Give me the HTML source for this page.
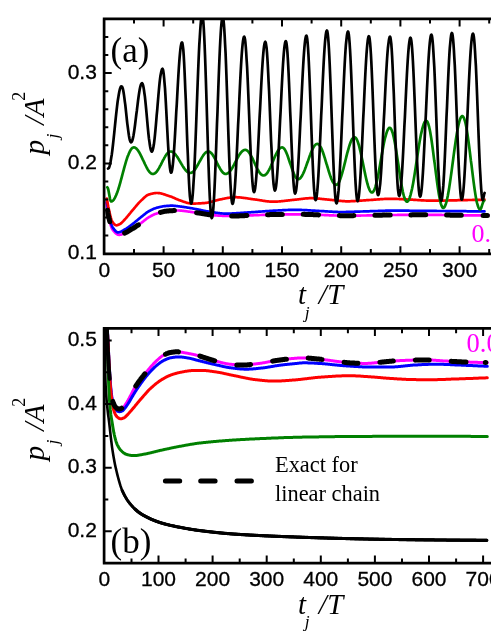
<!DOCTYPE html>
<html><head><meta charset="utf-8"><title>p_j/A^2 vs t_j/T</title>
<style>
html,body{margin:0;padding:0;background:#fff;}
body{width:491px;height:635px;overflow:hidden;font-family:"Liberation Sans",sans-serif;}
svg{display:block;will-change:transform;}
</style></head><body>
<svg width="491" height="635" viewBox="0 0 491 635">
<rect width="491" height="635" fill="#fff"/>
<defs>
<clipPath id="ca"><rect x="104.4" y="18.8" width="388.6" height="235.1"/></clipPath>
<clipPath id="cb"><rect x="104.4" y="328.4" width="388.6" height="234.8"/></clipPath>
</defs>
<g clip-path="url(#ca)">
<path d="M106.5 202.8L107 206.6L107.5 210.2L108 213.4L108.5 216L109 218.3L109.5 220.5L110 222.5L110.5 224.4L111 226.1L111.5 227.5L112 228.6L112.5 229.5L113 230.2L113.5 230.8L114 231.4L114.5 232L115 232.5L115.5 233L116 233.5L116.5 233.9L117 234.2L117.5 234.5L118 234.7L118.5 234.8L119 234.9L119.5 234.9L120 234.8L120.5 234.7L121 234.6L121.5 234.4L122 234.2L122.5 234L123 233.8L123.5 233.6L124 233.4L124.5 233.2L125 232.9L125.5 232.7L126 232.5L126.5 232.2L127 232L127.5 231.7L128 231.4L128.5 231.1L129 230.8L129.5 230.5L130 230.2L130.5 229.9L131 229.6L131.5 229.3L132 229L132.5 228.7L133 228.4L133.5 228.1L134 227.7L134.5 227.4L135 227.1L135.5 226.8L136 226.5L136.5 226.1L137 225.8L137.5 225.5L138 225.1L138.5 224.8L139 224.5L139.5 224.1L140 223.8L140.5 223.4L141 223.1L141.5 222.7L142 222.3L142.5 222L143 221.6L143.5 221.2L144 220.8L144.5 220.4L145 220L145.5 219.6L146 219.2L146.5 218.8L147 218.4L147.5 218.1L148 217.8L148.5 217.4L149 217.1L149.5 216.9L150 216.6L150.5 216.3L151 216L151.5 215.8L152 215.5L152.5 215.2L153 215L153.5 214.8L154 214.5L154.5 214.3L155 214.1L155.5 213.9L156 213.7L156.5 213.6L157 213.4L157.5 213.2L158 213.1L158.5 212.9L159 212.8L159.5 212.7L160 212.5L160.5 212.4L161 212.2L161.5 212.1L162 212L162.5 211.9L163 211.7L163.5 211.6L164 211.5L164.5 211.4L165 211.3L165.5 211.2L166 211.2L166.5 211.1L167 211L167.5 211L168 210.9L168.5 210.9L169 210.9L169.5 210.8L170 210.8L170.5 210.8L171 210.7L171.5 210.7L172 210.7L172.5 210.7L173 210.6L173.5 210.6L174 210.6L174.5 210.6L175 210.5L175.5 210.5L176 210.5L176.5 210.5L177 210.5L177.5 210.5L178 210.5L178.5 210.5L179 210.5L179.5 210.5L180 210.6L180.5 210.6L181 210.6L181.5 210.7L182 210.7L182.5 210.8L183 210.8L183.5 210.9L184 211L184.5 211L185 211.1L185.5 211.2L186 211.2L186.5 211.3L187 211.4L187.5 211.5L188 211.5L188.5 211.6L189 211.7L189.5 211.7L190 211.8L190.5 211.9L191 211.9L191.5 212L192 212.1L192.5 212.1L193 212.2L193.5 212.3L194 212.3L194.5 212.4L195 212.5L195.5 212.5L196 212.6L196.5 212.7L197 212.8L197.5 212.8L198 212.9L198.5 213L199 213.1L199.5 213.1L200 213.2L200.5 213.3L201 213.3L201.5 213.4L202 213.5L202.5 213.6L203 213.7L203.5 213.8L204 213.8L204.5 213.9L205 214L205.5 214.1L206 214.2L206.5 214.3L207 214.4L207.5 214.5L208 214.5L208.5 214.6L209 214.7L209.5 214.8L210 214.9L210.5 214.9L211 215L211.5 215.1L212 215.1L212.5 215.2L213 215.2L213.5 215.3L214 215.3L214.5 215.4L215 215.4L215.5 215.4L216 215.5L216.5 215.5L217 215.5L217.5 215.5L218 215.6L218.5 215.6L219 215.6L219.5 215.6L220 215.7L220.5 215.7L221 215.7L221.5 215.7L222 215.8L222.5 215.8L223 215.8L223.5 215.8L224 215.8L224.5 215.9L225 215.9L225.5 215.9L226 215.9L226.5 215.9L227 215.9L227.5 215.9L228 216L228.5 216L229 216L229.5 216L230 216L230.5 216L231 216L231.5 216L232 216L232.5 216L233 216L233.5 216L234 216L234.5 216L235 216L235.5 216L236 216L236.5 215.9L237 215.9L237.5 215.9L238 215.9L238.5 215.9L239 215.9L239.5 215.9L240 215.8L240.5 215.8L241 215.8L241.5 215.8L242 215.8L242.5 215.7L243 215.7L243.5 215.7L244 215.7L244.5 215.7L245 215.6L245.5 215.6L246 215.6L246.5 215.6L247 215.5L247.5 215.5L248 215.5L248.5 215.5L249 215.4L249.5 215.4L250 215.4L250.5 215.4L251 215.4L251.5 215.3L252 215.3L252.5 215.3L253 215.3L253.5 215.3L254 215.2L254.5 215.2L255 215.2L255.5 215.2L256 215.2L256.5 215.1L257 215.1L257.5 215.1L258 215.1L258.5 215.1L259 215.1L259.5 215L260 215L260.5 215L261 215L261.5 215L262 214.9L262.5 214.9L263 214.9L263.5 214.9L264 214.9L264.5 214.8L265 214.8L265.5 214.8L266 214.8L266.5 214.8L267 214.7L267.5 214.7L268 214.7L268.5 214.7L269 214.7L269.5 214.6L270 214.6L270.5 214.6L271 214.6L271.5 214.6L272 214.6L272.5 214.6L273 214.5L273.5 214.5L274 214.5L274.5 214.5L275 214.5L275.5 214.5L276 214.5L276.5 214.5L277 214.4L277.5 214.4L278 214.4L278.5 214.4L279 214.4L279.5 214.4L280 214.4L280.5 214.4L281 214.4L281.5 214.4L282 214.4L282.5 214.4L283 214.4L283.5 214.4L284 214.4L284.5 214.4L285 214.4L285.5 214.4L286 214.4L286.5 214.4L287 214.3L287.5 214.3L288 214.3L288.5 214.3L289 214.3L289.5 214.3L290 214.3L290.5 214.3L291 214.3L291.5 214.3L292 214.3L292.5 214.3L293 214.3L293.5 214.3L294 214.3L294.5 214.3L295 214.3L295.5 214.3L296 214.3L296.5 214.3L297 214.3L297.5 214.3L298 214.3L298.5 214.3L299 214.3L299.5 214.3L300 214.3L300.5 214.3L301 214.3L301.5 214.3L302 214.3L302.5 214.3L303 214.3L303.5 214.3L304 214.3L304.5 214.4L305 214.4L305.5 214.4L306 214.4L306.5 214.4L307 214.4L307.5 214.4L308 214.5L308.5 214.5L309 214.5L309.5 214.5L310 214.5L310.5 214.5L311 214.6L311.5 214.6L312 214.6L312.5 214.6L313 214.6L313.5 214.7L314 214.7L314.5 214.7L315 214.7L315.5 214.7L316 214.8L316.5 214.8L317 214.8L317.5 214.8L318 214.8L318.5 214.9L319 214.9L319.5 214.9L320 214.9L320.5 214.9L321 214.9L321.5 214.9L322 215L322.5 215L323 215L323.5 215L324 215L324.5 215.1L325 215.1L325.5 215.1L326 215.1L326.5 215.1L327 215.2L327.5 215.2L328 215.2L328.5 215.2L329 215.3L329.5 215.3L330 215.3L330.5 215.3L331 215.3L331.5 215.4L332 215.4L332.5 215.4L333 215.4L333.5 215.4L334 215.5L334.5 215.5L335 215.5L335.5 215.5L336 215.5L336.5 215.5L337 215.6L337.5 215.6L338 215.6L338.5 215.6L339 215.6L339.5 215.6L340 215.6L340.5 215.7L341 215.7L341.5 215.7L342 215.7L342.5 215.7L343 215.7L343.5 215.7L344 215.7L344.5 215.7L345 215.7L345.5 215.7L346 215.7L346.5 215.7L347 215.7L347.5 215.7L348 215.7L348.5 215.7L349 215.7L349.5 215.7L350 215.7L350.5 215.7L351 215.7L351.5 215.7L352 215.7L352.5 215.7L353 215.7L353.5 215.6L354 215.6L354.5 215.6L355 215.6L355.5 215.6L356 215.6L356.5 215.6L357 215.6L357.5 215.6L358 215.6L358.5 215.6L359 215.6L359.5 215.6L360 215.6L360.5 215.6L361 215.5L361.5 215.5L362 215.5L362.5 215.5L363 215.5L363.5 215.5L364 215.5L364.5 215.5L365 215.5L365.5 215.5L366 215.5L366.5 215.5L367 215.4L367.5 215.4L368 215.4L368.5 215.4L369 215.4L369.5 215.4L370 215.4L370.5 215.4L371 215.4L371.5 215.4L372 215.4L372.5 215.4L373 215.3L373.5 215.3L374 215.3L374.5 215.3L375 215.3L375.5 215.3L376 215.3L376.5 215.3L377 215.3L377.5 215.3L378 215.2L378.5 215.2L379 215.2L379.5 215.2L380 215.2L380.5 215.2L381 215.2L381.5 215.2L382 215.1L382.5 215.1L383 215.1L383.5 215.1L384 215.1L384.5 215.1L385 215.1L385.5 215.1L386 215.1L386.5 215.1L387 215.1L387.5 215L388 215L388.5 215L389 215L389.5 215L390 215L390.5 215L391 215L391.5 215L392 215L392.5 215L393 215L393.5 215L394 215L394.5 215L395 215L395.5 215L396 215L396.5 215L397 215L397.5 214.9L398 214.9L398.5 214.9L399 214.9L399.5 214.9L400 214.9L400.5 214.9L401 214.9L401.5 214.9L402 214.9L402.5 214.9L403 214.9L403.5 214.9L404 214.9L404.5 214.9L405 214.9L405.5 214.9L406 214.9L406.5 214.9L407 214.9L407.5 214.9L408 214.9L408.5 214.9L409 214.9L409.5 214.9L410 214.9L410.5 214.9L411 214.9L411.5 214.9L412 214.9L412.5 214.8L413 214.8L413.5 214.8L414 214.8L414.5 214.8L415 214.8L415.5 214.8L416 214.8L416.5 214.8L417 214.8L417.5 214.8L418 214.8L418.5 214.8L419 214.8L419.5 214.8L420 214.8L420.5 214.8L421 214.8L421.5 214.8L422 214.8L422.5 214.8L423 214.8L423.5 214.8L424 214.8L424.5 214.8L425 214.8L425.5 214.8L426 214.8L426.5 214.8L427 214.8L427.5 214.8L428 214.8L428.5 214.8L429 214.8L429.5 214.8L430 214.8L430.5 214.8L431 214.8L431.5 214.8L432 214.8L432.5 214.8L433 214.8L433.5 214.8L434 214.8L434.5 214.8L435 214.8L435.5 214.8L436 214.8L436.5 214.9L437 214.9L437.5 214.9L438 214.9L438.5 214.9L439 214.9L439.5 214.9L440 214.9L440.5 214.9L441 214.9L441.5 214.9L442 215L442.5 215L443 215L443.5 215L444 215L444.5 215L445 215L445.5 215L446 215.1L446.5 215.1L447 215.1L447.5 215.1L448 215.1L448.5 215.1L449 215.1L449.5 215.1L450 215.1L450.5 215.2L451 215.2L451.5 215.2L452 215.2L452.5 215.2L453 215.2L453.5 215.2L454 215.2L454.5 215.2L455 215.2L455.5 215.3L456 215.3L456.5 215.3L457 215.3L457.5 215.3L458 215.3L458.5 215.3L459 215.3L459.5 215.3L460 215.3L460.5 215.3L461 215.3L461.5 215.3L462 215.3L462.5 215.3L463 215.3L463.5 215.3L464 215.3L464.5 215.3L465 215.3L465.5 215.3L466 215.3L466.5 215.3L467 215.3L467.5 215.3L468 215.3L468.5 215.3L469 215.3L469.5 215.4L470 215.4L470.5 215.4L471 215.4L471.5 215.4L472 215.4L472.5 215.4L473 215.4L473.5 215.4L474 215.4L474.5 215.4L475 215.4L475.5 215.4L476 215.4L476.5 215.4L477 215.4L477.5 215.4L478 215.4L478.5 215.4L479 215.4L479.5 215.4L480 215.4L480.5 215.4L481 215.4L481.5 215.4L482 215.4L482.5 215.4L483 215.4L483.5 215.4L484 215.4L484.5 215.4L485 215.4L485.5 215.4L486 215.4L486.5 215.4L487 215.4L487.5 215.4L488 215.4L488.5 215.4L488.6 215.4" fill="none" stroke="#ff00ff" stroke-width="2.7" stroke-linejoin="round" stroke-linecap="round"/>
<path d="M106.8 201L107.3 204.3L107.8 207.5L108.3 210.4L108.8 213L109.3 215.4L109.8 217.7L110.3 220L110.8 222L111.3 223.9L111.8 225.5L112.3 226.6L112.8 227.5L113.3 228.2L113.8 228.9L114.3 229.6L114.8 230.2L115.3 230.8L115.8 231.3L116.3 231.7L116.8 232L117.3 232.2L117.8 232.4L118.3 232.4L118.8 232.4L119.3 232.3L119.8 232.1L120.3 231.9L120.8 231.7L121.3 231.5L121.8 231.2L122.3 230.9L122.8 230.6L123.3 230.3L123.8 230L124.3 229.8L124.8 229.5L125.3 229.2L125.8 228.9L126.3 228.6L126.8 228.3L127.3 227.9L127.8 227.6L128.3 227.2L128.8 226.9L129.3 226.5L129.8 226.1L130.3 225.7L130.8 225.4L131.3 225L131.8 224.6L132.3 224.2L132.8 223.8L133.3 223.5L133.8 223.1L134.3 222.7L134.8 222.3L135.3 221.9L135.8 221.4L136.3 221L136.8 220.6L137.3 220.2L137.8 219.8L138.3 219.4L138.8 218.9L139.3 218.5L139.8 218.1L140.3 217.7L140.8 217.3L141.3 216.9L141.8 216.5L142.3 216.1L142.8 215.7L143.3 215.3L143.8 214.9L144.3 214.5L144.8 214.1L145.3 213.7L145.8 213.3L146.3 212.9L146.8 212.5L147.3 212.2L147.8 211.9L148.3 211.5L148.8 211.3L149.3 211L149.8 210.7L150.3 210.5L150.8 210.2L151.3 209.9L151.8 209.7L152.3 209.5L152.8 209.2L153.3 209L153.8 208.8L154.3 208.6L154.8 208.4L155.3 208.2L155.8 208.1L156.3 207.9L156.8 207.8L157.3 207.6L157.8 207.5L158.3 207.4L158.8 207.2L159.3 207.1L159.8 207L160.3 206.9L160.8 206.8L161.3 206.7L161.8 206.6L162.3 206.5L162.8 206.4L163.3 206.3L163.8 206.2L164.3 206.2L164.8 206.1L165.3 206.1L165.8 206L166.3 206L166.8 205.9L167.3 205.9L167.8 205.9L168.3 205.8L168.8 205.8L169.3 205.8L169.8 205.7L170.3 205.7L170.8 205.7L171.3 205.7L171.8 205.7L172.3 205.7L172.8 205.7L173.3 205.7L173.8 205.8L174.3 205.8L174.8 205.9L175.3 205.9L175.8 206L176.3 206L176.8 206.1L177.3 206.2L177.8 206.2L178.3 206.3L178.8 206.4L179.3 206.4L179.8 206.5L180.3 206.5L180.8 206.6L181.3 206.7L181.8 206.7L182.3 206.8L182.8 206.9L183.3 206.9L183.8 207L184.3 207.1L184.8 207.2L185.3 207.2L185.8 207.3L186.3 207.4L186.8 207.5L187.3 207.6L187.8 207.6L188.3 207.7L188.8 207.8L189.3 207.9L189.8 208L190.3 208.1L190.8 208.2L191.3 208.2L191.8 208.3L192.3 208.4L192.8 208.5L193.3 208.6L193.8 208.7L194.3 208.8L194.8 208.9L195.3 209L195.8 209L196.3 209.1L196.8 209.2L197.3 209.3L197.8 209.4L198.3 209.5L198.8 209.6L199.3 209.7L199.8 209.8L200.3 209.9L200.8 210L201.3 210.2L201.8 210.3L202.3 210.4L202.8 210.5L203.3 210.6L203.8 210.7L204.3 210.8L204.8 210.9L205.3 211L205.8 211.1L206.3 211.2L206.8 211.3L207.3 211.4L207.8 211.4L208.3 211.5L208.8 211.6L209.3 211.7L209.8 211.8L210.3 211.8L210.8 211.9L211.3 212L211.8 212.1L212.3 212.1L212.8 212.2L213.3 212.3L213.8 212.4L214.3 212.5L214.8 212.5L215.3 212.6L215.8 212.7L216.3 212.8L216.8 212.8L217.3 212.9L217.8 213L218.3 213L218.8 213.1L219.3 213.2L219.8 213.2L220.3 213.3L220.8 213.3L221.3 213.4L221.8 213.4L222.3 213.5L222.8 213.5L223.3 213.5L223.8 213.6L224.3 213.6L224.8 213.6L225.3 213.6L225.8 213.6L226.3 213.6L226.8 213.6L227.3 213.6L227.8 213.6L228.3 213.6L228.8 213.6L229.3 213.5L229.8 213.5L230.3 213.5L230.8 213.5L231.3 213.5L231.8 213.5L232.3 213.4L232.8 213.4L233.3 213.4L233.8 213.4L234.3 213.3L234.8 213.3L235.3 213.3L235.8 213.3L236.3 213.2L236.8 213.2L237.3 213.2L237.8 213.1L238.3 213.1L238.8 213.1L239.3 213L239.8 213L240.3 213L240.8 212.9L241.3 212.9L241.8 212.9L242.3 212.8L242.8 212.8L243.3 212.8L243.8 212.7L244.3 212.7L244.8 212.6L245.3 212.6L245.8 212.6L246.3 212.5L246.8 212.5L247.3 212.5L247.8 212.4L248.3 212.4L248.8 212.4L249.3 212.3L249.8 212.3L250.3 212.3L250.8 212.3L251.3 212.2L251.8 212.2L252.3 212.2L252.8 212.1L253.3 212.1L253.8 212.1L254.3 212L254.8 212L255.3 212L255.8 211.9L256.3 211.9L256.8 211.9L257.3 211.8L257.8 211.8L258.3 211.7L258.8 211.7L259.3 211.7L259.8 211.6L260.3 211.6L260.8 211.6L261.3 211.5L261.8 211.5L262.3 211.5L262.8 211.4L263.3 211.4L263.8 211.3L264.3 211.3L264.8 211.3L265.3 211.2L265.8 211.2L266.3 211.2L266.8 211.1L267.3 211.1L267.8 211.1L268.3 211L268.8 211L269.3 211L269.8 210.9L270.3 210.9L270.8 210.9L271.3 210.8L271.8 210.8L272.3 210.8L272.8 210.7L273.3 210.7L273.8 210.7L274.3 210.6L274.8 210.6L275.3 210.6L275.8 210.6L276.3 210.5L276.8 210.5L277.3 210.5L277.8 210.5L278.3 210.4L278.8 210.4L279.3 210.4L279.8 210.4L280.3 210.3L280.8 210.3L281.3 210.3L281.8 210.3L282.3 210.2L282.8 210.2L283.3 210.2L283.8 210.1L284.3 210.1L284.8 210.1L285.3 210.1L285.8 210.1L286.3 210L286.8 210L287.3 210L287.8 210L288.3 209.9L288.8 209.9L289.3 209.9L289.8 209.9L290.3 209.9L290.8 209.9L291.3 209.8L291.8 209.8L292.3 209.8L292.8 209.8L293.3 209.8L293.8 209.8L294.3 209.8L294.8 209.8L295.3 209.8L295.8 209.8L296.3 209.8L296.8 209.8L297.3 209.8L297.8 209.8L298.3 209.8L298.8 209.9L299.3 209.9L299.8 209.9L300.3 209.9L300.8 209.9L301.3 209.9L301.8 210L302.3 210L302.8 210L303.3 210L303.8 210L304.3 210.1L304.8 210.1L305.3 210.1L305.8 210.2L306.3 210.2L306.8 210.2L307.3 210.2L307.8 210.3L308.3 210.3L308.8 210.3L309.3 210.4L309.8 210.4L310.3 210.4L310.8 210.5L311.3 210.5L311.8 210.5L312.3 210.6L312.8 210.6L313.3 210.6L313.8 210.6L314.3 210.7L314.8 210.7L315.3 210.7L315.8 210.8L316.3 210.8L316.8 210.8L317.3 210.9L317.8 210.9L318.3 210.9L318.8 210.9L319.3 211L319.8 211L320.3 211L320.8 211L321.3 211.1L321.8 211.1L322.3 211.1L322.8 211.1L323.3 211.2L323.8 211.2L324.3 211.2L324.8 211.3L325.3 211.3L325.8 211.3L326.3 211.4L326.8 211.4L327.3 211.4L327.8 211.5L328.3 211.5L328.8 211.5L329.3 211.6L329.8 211.6L330.3 211.6L330.8 211.6L331.3 211.7L331.8 211.7L332.3 211.7L332.8 211.8L333.3 211.8L333.8 211.8L334.3 211.8L334.8 211.9L335.3 211.9L335.8 211.9L336.3 211.9L336.8 211.9L337.3 211.9L337.8 212L338.3 212L338.8 212L339.3 212L339.8 212L340.3 212L340.8 212L341.3 212L341.8 212L342.3 212L342.8 212L343.3 212L343.8 212L344.3 212L344.8 212L345.3 212L345.8 212L346.3 211.9L346.8 211.9L347.3 211.9L347.8 211.9L348.3 211.9L348.8 211.9L349.3 211.9L349.8 211.9L350.3 211.9L350.8 211.8L351.3 211.8L351.8 211.8L352.3 211.8L352.8 211.8L353.3 211.8L353.8 211.8L354.3 211.7L354.8 211.7L355.3 211.7L355.8 211.7L356.3 211.7L356.8 211.7L357.3 211.6L357.8 211.6L358.3 211.6L358.8 211.6L359.3 211.6L359.8 211.6L360.3 211.5L360.8 211.5L361.3 211.5L361.8 211.5L362.3 211.5L362.8 211.5L363.3 211.4L363.8 211.4L364.3 211.4L364.8 211.4L365.3 211.4L365.8 211.4L366.3 211.4L366.8 211.3L367.3 211.3L367.8 211.3L368.3 211.3L368.8 211.3L369.3 211.3L369.8 211.2L370.3 211.2L370.8 211.2L371.3 211.2L371.8 211.2L372.3 211.2L372.8 211.1L373.3 211.1L373.8 211.1L374.3 211.1L374.8 211.1L375.3 211L375.8 211L376.3 211L376.8 211L377.3 211L377.8 211L378.3 210.9L378.8 210.9L379.3 210.9L379.8 210.9L380.3 210.9L380.8 210.9L381.3 210.8L381.8 210.8L382.3 210.8L382.8 210.8L383.3 210.8L383.8 210.8L384.3 210.8L384.8 210.8L385.3 210.7L385.8 210.7L386.3 210.7L386.8 210.7L387.3 210.7L387.8 210.7L388.3 210.7L388.8 210.7L389.3 210.7L389.8 210.7L390.3 210.7L390.8 210.7L391.3 210.7L391.8 210.7L392.3 210.7L392.8 210.7L393.3 210.7L393.8 210.7L394.3 210.7L394.8 210.7L395.3 210.7L395.8 210.7L396.3 210.7L396.8 210.7L397.3 210.7L397.8 210.7L398.3 210.7L398.8 210.7L399.3 210.7L399.8 210.7L400.3 210.7L400.8 210.7L401.3 210.7L401.8 210.7L402.3 210.7L402.8 210.7L403.3 210.7L403.8 210.7L404.3 210.7L404.8 210.7L405.3 210.7L405.8 210.7L406.3 210.7L406.8 210.7L407.3 210.7L407.8 210.7L408.3 210.7L408.8 210.7L409.3 210.7L409.8 210.8L410.3 210.8L410.8 210.8L411.3 210.8L411.8 210.8L412.3 210.8L412.8 210.8L413.3 210.8L413.8 210.8L414.3 210.8L414.8 210.8L415.3 210.8L415.8 210.8L416.3 210.8L416.8 210.8L417.3 210.8L417.8 210.8L418.3 210.8L418.8 210.8L419.3 210.8L419.8 210.8L420.3 210.8L420.8 210.8L421.3 210.8L421.8 210.8L422.3 210.8L422.8 210.8L423.3 210.8L423.8 210.8L424.3 210.8L424.8 210.8L425.3 210.8L425.8 210.8L426.3 210.8L426.8 210.8L427.3 210.9L427.8 210.9L428.3 210.9L428.8 210.9L429.3 210.9L429.8 210.9L430.3 210.9L430.8 210.9L431.3 210.9L431.8 210.9L432.3 210.9L432.8 210.9L433.3 210.9L433.8 210.9L434.3 210.9L434.8 210.9L435.3 210.9L435.8 210.9L436.3 210.9L436.8 211L437.3 211L437.8 211L438.3 211L438.8 211L439.3 211L439.8 211L440.3 211L440.8 211L441.3 211L441.8 211L442.3 211L442.8 211L443.3 211L443.8 211L444.3 211L444.8 211L445.3 211.1L445.8 211.1L446.3 211.1L446.8 211.1L447.3 211.1L447.8 211.1L448.3 211.1L448.8 211.1L449.3 211.1L449.8 211.1L450.3 211.1L450.8 211.1L451.3 211.1L451.8 211.1L452.3 211.1L452.8 211.1L453.3 211.1L453.8 211.1L454.3 211.1L454.8 211.1L455.3 211.1L455.8 211.2L456.3 211.2L456.8 211.2L457.3 211.2L457.8 211.2L458.3 211.2L458.8 211.2L459.3 211.2L459.8 211.2L460.3 211.2L460.8 211.2L461.3 211.2L461.8 211.2L462.3 211.2L462.8 211.2L463.3 211.2L463.8 211.2L464.3 211.2L464.8 211.2L465.3 211.2L465.8 211.2L466.3 211.2L466.8 211.3L467.3 211.3L467.8 211.3L468.3 211.3L468.8 211.3L469.3 211.3L469.8 211.3L470.3 211.3L470.8 211.3L471.3 211.3L471.8 211.3L472.3 211.3L472.8 211.3L473.3 211.3L473.8 211.3L474.3 211.3L474.8 211.3L475.3 211.3L475.8 211.3L476.3 211.3L476.8 211.3L477.3 211.3L477.8 211.3L478.3 211.3L478.8 211.4L479.3 211.4L479.8 211.4L480.3 211.4L480.8 211.4L481.3 211.4L481.8 211.4L482.3 211.4L482.8 211.4L483.3 211.4L483.8 211.4L484.3 211.4L484.5 211.4" fill="none" stroke="#0000ff" stroke-width="2.7" stroke-linejoin="round" stroke-linecap="round"/>
<path d="M106.8 198.7L107.3 201.5L107.8 204.2L108.3 206.8L108.8 209.1L109.3 211.3L109.8 213.5L110.3 215.7L110.8 217.7L111.3 219.4L111.8 220.6L112.3 221.5L112.8 222.3L113.3 223L113.8 223.6L114.3 224.2L114.8 224.6L115.3 225L115.8 225.2L116.3 225.3L116.8 225.3L117.3 225.2L117.8 225L118.3 224.8L118.8 224.6L119.3 224.4L119.8 224.1L120.3 223.8L120.8 223.5L121.3 223.1L121.8 222.6L122.3 222.1L122.8 221.6L123.3 221.1L123.8 220.5L124.3 220L124.8 219.5L125.3 218.9L125.8 218.4L126.3 217.8L126.8 217.2L127.3 216.6L127.8 216L128.3 215.4L128.8 214.8L129.3 214.2L129.8 213.6L130.3 213L130.8 212.3L131.3 211.7L131.8 211.1L132.3 210.5L132.8 210L133.3 209.4L133.8 208.8L134.3 208.2L134.8 207.6L135.3 207L135.8 206.4L136.3 205.8L136.8 205.2L137.3 204.6L137.8 204L138.3 203.5L138.8 202.9L139.3 202.4L139.8 201.9L140.3 201.4L140.8 200.9L141.3 200.4L141.8 199.9L142.3 199.5L142.8 199L143.3 198.5L143.8 198L144.3 197.5L144.8 197.1L145.3 196.7L145.8 196.3L146.3 195.9L146.8 195.5L147.3 195.2L147.8 194.9L148.3 194.7L148.8 194.5L149.3 194.4L149.8 194.2L150.3 194.1L150.8 194L151.3 193.8L151.8 193.7L152.3 193.6L152.8 193.5L153.3 193.4L153.8 193.3L154.3 193.2L154.8 193.1L155.3 193.1L155.8 193L156.3 193L156.8 193L157.3 193L157.8 193L158.3 193.1L158.8 193.1L159.3 193.2L159.8 193.2L160.3 193.3L160.8 193.4L161.3 193.5L161.8 193.7L162.3 193.8L162.8 193.9L163.3 194.1L163.8 194.2L164.3 194.4L164.8 194.5L165.3 194.7L165.8 194.9L166.3 195.1L166.8 195.2L167.3 195.4L167.8 195.6L168.3 195.7L168.8 195.9L169.3 196.1L169.8 196.2L170.3 196.4L170.8 196.6L171.3 196.8L171.8 196.9L172.3 197.2L172.8 197.4L173.3 197.6L173.8 197.8L174.3 198L174.8 198.2L175.3 198.5L175.8 198.7L176.3 198.9L176.8 199.1L177.3 199.4L177.8 199.6L178.3 199.8L178.8 200L179.3 200.2L179.8 200.3L180.3 200.5L180.8 200.7L181.3 200.8L181.8 201L182.3 201.2L182.8 201.4L183.3 201.6L183.8 201.7L184.3 201.9L184.8 202.1L185.3 202.3L185.8 202.4L186.3 202.6L186.8 202.7L187.3 202.9L187.8 203L188.3 203.1L188.8 203.2L189.3 203.3L189.8 203.4L190.3 203.5L190.8 203.5L191.3 203.6L191.8 203.6L192.3 203.6L192.8 203.6L193.3 203.6L193.8 203.6L194.3 203.6L194.8 203.6L195.3 203.6L195.8 203.5L196.3 203.5L196.8 203.5L197.3 203.5L197.8 203.5L198.3 203.4L198.8 203.4L199.3 203.4L199.8 203.4L200.3 203.3L200.8 203.3L201.3 203.3L201.8 203.2L202.3 203.2L202.8 203.2L203.3 203.1L203.8 203.1L204.3 203.1L204.8 203L205.3 203L205.8 202.9L206.3 202.9L206.8 202.8L207.3 202.7L207.8 202.6L208.3 202.5L208.8 202.4L209.3 202.3L209.8 202.2L210.3 202.1L210.8 201.9L211.3 201.8L211.8 201.7L212.3 201.5L212.8 201.4L213.3 201.2L213.8 201.1L214.3 200.9L214.8 200.8L215.3 200.6L215.8 200.5L216.3 200.4L216.8 200.2L217.3 200.1L217.8 200L218.3 199.9L218.8 199.7L219.3 199.6L219.8 199.5L220.3 199.4L220.8 199.3L221.3 199.3L221.8 199.2L222.3 199L222.8 198.9L223.3 198.8L223.8 198.7L224.3 198.6L224.8 198.5L225.3 198.4L225.8 198.3L226.3 198.2L226.8 198.1L227.3 198L227.8 197.9L228.3 197.9L228.8 197.8L229.3 197.7L229.8 197.6L230.3 197.5L230.8 197.5L231.3 197.4L231.8 197.4L232.3 197.3L232.8 197.3L233.3 197.3L233.8 197.2L234.3 197.2L234.8 197.2L235.3 197.2L235.8 197.2L236.3 197.2L236.8 197.2L237.3 197.3L237.8 197.3L238.3 197.3L238.8 197.3L239.3 197.4L239.8 197.4L240.3 197.5L240.8 197.5L241.3 197.6L241.8 197.6L242.3 197.7L242.8 197.8L243.3 197.8L243.8 197.9L244.3 198L244.8 198L245.3 198.1L245.8 198.2L246.3 198.2L246.8 198.3L247.3 198.4L247.8 198.5L248.3 198.5L248.8 198.6L249.3 198.7L249.8 198.8L250.3 198.9L250.8 198.9L251.3 199L251.8 199.1L252.3 199.1L252.8 199.2L253.3 199.3L253.8 199.4L254.3 199.4L254.8 199.5L255.3 199.5L255.8 199.6L256.3 199.7L256.8 199.7L257.3 199.8L257.8 199.9L258.3 200L258.8 200L259.3 200.1L259.8 200.2L260.3 200.3L260.8 200.4L261.3 200.4L261.8 200.5L262.3 200.6L262.8 200.7L263.3 200.8L263.8 200.8L264.3 200.9L264.8 201L265.3 201.1L265.8 201.1L266.3 201.2L266.8 201.3L267.3 201.3L267.8 201.4L268.3 201.4L268.8 201.5L269.3 201.5L269.8 201.6L270.3 201.6L270.8 201.6L271.3 201.7L271.8 201.7L272.3 201.7L272.8 201.7L273.3 201.7L273.8 201.7L274.3 201.7L274.8 201.7L275.3 201.7L275.8 201.6L276.3 201.6L276.8 201.6L277.3 201.6L277.8 201.5L278.3 201.5L278.8 201.5L279.3 201.4L279.8 201.4L280.3 201.3L280.8 201.3L281.3 201.2L281.8 201.2L282.3 201.1L282.8 201.1L283.3 201L283.8 201L284.3 200.9L284.8 200.9L285.3 200.8L285.8 200.7L286.3 200.7L286.8 200.6L287.3 200.6L287.8 200.5L288.3 200.4L288.8 200.4L289.3 200.3L289.8 200.3L290.3 200.2L290.8 200.1L291.3 200.1L291.8 200L292.3 200L292.8 199.9L293.3 199.9L293.8 199.8L294.3 199.8L294.8 199.7L295.3 199.7L295.8 199.6L296.3 199.6L296.8 199.5L297.3 199.5L297.8 199.4L298.3 199.3L298.8 199.3L299.3 199.2L299.8 199.1L300.3 199.1L300.8 199L301.3 199L301.8 198.9L302.3 198.8L302.8 198.8L303.3 198.7L303.8 198.6L304.3 198.6L304.8 198.5L305.3 198.5L305.8 198.4L306.3 198.4L306.8 198.4L307.3 198.3L307.8 198.3L308.3 198.3L308.8 198.2L309.3 198.2L309.8 198.2L310.3 198.2L310.8 198.2L311.3 198.2L311.8 198.2L312.3 198.2L312.8 198.2L313.3 198.3L313.8 198.3L314.3 198.3L314.8 198.3L315.3 198.4L315.8 198.4L316.3 198.4L316.8 198.5L317.3 198.5L317.8 198.6L318.3 198.6L318.8 198.7L319.3 198.7L319.8 198.7L320.3 198.8L320.8 198.9L321.3 198.9L321.8 199L322.3 199L322.8 199.1L323.3 199.1L323.8 199.2L324.3 199.2L324.8 199.3L325.3 199.3L325.8 199.4L326.3 199.4L326.8 199.5L327.3 199.5L327.8 199.6L328.3 199.6L328.8 199.7L329.3 199.7L329.8 199.8L330.3 199.8L330.8 199.9L331.3 199.9L331.8 200L332.3 200L332.8 200.1L333.3 200.1L333.8 200.2L334.3 200.2L334.8 200.3L335.3 200.3L335.8 200.4L336.3 200.5L336.8 200.5L337.3 200.6L337.8 200.6L338.3 200.7L338.8 200.7L339.3 200.8L339.8 200.8L340.3 200.9L340.8 200.9L341.3 201L341.8 201L342.3 201.1L342.8 201.1L343.3 201.2L343.8 201.2L344.3 201.2L344.8 201.2L345.3 201.3L345.8 201.3L346.3 201.3L346.8 201.3L347.3 201.3L347.8 201.3L348.3 201.3L348.8 201.3L349.3 201.3L349.8 201.3L350.3 201.3L350.8 201.2L351.3 201.2L351.8 201.2L352.3 201.2L352.8 201.2L353.3 201.1L353.8 201.1L354.3 201.1L354.8 201.1L355.3 201L355.8 201L356.3 201L356.8 200.9L357.3 200.9L357.8 200.9L358.3 200.8L358.8 200.8L359.3 200.8L359.8 200.7L360.3 200.7L360.8 200.7L361.3 200.6L361.8 200.6L362.3 200.5L362.8 200.5L363.3 200.5L363.8 200.4L364.3 200.4L364.8 200.4L365.3 200.3L365.8 200.3L366.3 200.2L366.8 200.2L367.3 200.2L367.8 200.1L368.3 200.1L368.8 200.1L369.3 200L369.8 200L370.3 200L370.8 200L371.3 199.9L371.8 199.9L372.3 199.9L372.8 199.8L373.3 199.8L373.8 199.7L374.3 199.7L374.8 199.7L375.3 199.6L375.8 199.6L376.3 199.5L376.8 199.5L377.3 199.5L377.8 199.4L378.3 199.4L378.8 199.3L379.3 199.3L379.8 199.3L380.3 199.2L380.8 199.2L381.3 199.2L381.8 199.1L382.3 199.1L382.8 199.1L383.3 199L383.8 199L384.3 199L384.8 198.9L385.3 198.9L385.8 198.9L386.3 198.9L386.8 198.9L387.3 198.8L387.8 198.8L388.3 198.8L388.8 198.8L389.3 198.8L389.8 198.8L390.3 198.8L390.8 198.8L391.3 198.8L391.8 198.8L392.3 198.8L392.8 198.8L393.3 198.8L393.8 198.8L394.3 198.9L394.8 198.9L395.3 198.9L395.8 198.9L396.3 198.9L396.8 198.9L397.3 199L397.8 199L398.3 199L398.8 199L399.3 199.1L399.8 199.1L400.3 199.1L400.8 199.1L401.3 199.2L401.8 199.2L402.3 199.2L402.8 199.2L403.3 199.3L403.8 199.3L404.3 199.3L404.8 199.3L405.3 199.4L405.8 199.4L406.3 199.4L406.8 199.4L407.3 199.5L407.8 199.5L408.3 199.5L408.8 199.5L409.3 199.6L409.8 199.6L410.3 199.6L410.8 199.6L411.3 199.7L411.8 199.7L412.3 199.7L412.8 199.7L413.3 199.8L413.8 199.8L414.3 199.8L414.8 199.9L415.3 199.9L415.8 199.9L416.3 200L416.8 200L417.3 200L417.8 200.1L418.3 200.1L418.8 200.1L419.3 200.2L419.8 200.2L420.3 200.2L420.8 200.3L421.3 200.3L421.8 200.3L422.3 200.4L422.8 200.4L423.3 200.4L423.8 200.4L424.3 200.5L424.8 200.5L425.3 200.5L425.8 200.5L426.3 200.6L426.8 200.6L427.3 200.6L427.8 200.6L428.3 200.6L428.8 200.7L429.3 200.7L429.8 200.7L430.3 200.7L430.8 200.7L431.3 200.7L431.8 200.7L432.3 200.7L432.8 200.7L433.3 200.7L433.8 200.7L434.3 200.7L434.8 200.7L435.3 200.7L435.8 200.7L436.3 200.7L436.8 200.7L437.3 200.7L437.8 200.7L438.3 200.7L438.8 200.6L439.3 200.6L439.8 200.6L440.3 200.6L440.8 200.6L441.3 200.6L441.8 200.6L442.3 200.6L442.8 200.6L443.3 200.6L443.8 200.6L444.3 200.6L444.8 200.5L445.3 200.5L445.8 200.5L446.3 200.5L446.8 200.5L447.3 200.5L447.8 200.5L448.3 200.5L448.8 200.5L449.3 200.4L449.8 200.4L450.3 200.4L450.8 200.4L451.3 200.4L451.8 200.4L452.3 200.4L452.8 200.4L453.3 200.3L453.8 200.3L454.3 200.3L454.8 200.3L455.3 200.3L455.8 200.3L456.3 200.3L456.8 200.3L457.3 200.3L457.8 200.2L458.3 200.2L458.8 200.2L459.3 200.2L459.8 200.2L460.3 200.2L460.8 200.2L461.3 200.2L461.8 200.2L462.3 200.2L462.8 200.1L463.3 200.1L463.8 200.1L464.3 200.1L464.8 200.1L465.3 200.1L465.8 200.1L466.3 200.1L466.8 200.1L467.3 200.1L467.8 200L468.3 200L468.8 200L469.3 200L469.8 200L470.3 200L470.8 200L471.3 200L471.8 200L472.3 200L472.8 199.9L473.3 199.9L473.8 199.9L474.3 199.9L474.8 199.9L475.3 199.9L475.8 199.9L476.3 199.9L476.8 199.9L477.3 199.9L477.8 199.8L478.3 199.8L478.8 199.8L479.3 199.8L479.8 199.8L480.3 199.8L480.8 199.8L481.3 199.8L481.8 199.8L482.3 199.7L482.8 199.7L483.3 199.7L483.8 199.7L484.3 199.7L484.5 199.7" fill="none" stroke="#ff0000" stroke-width="2.7" stroke-linejoin="round" stroke-linecap="round"/>
<path d="M107.3 187.3L107.8 188L108.4 190L108.9 192.8L109.5 196L110 198.8L110.6 200.8L111.1 201.5L111.6 201.4L112.1 201.2L112.6 200.9L113.1 200.5L113.6 199.9L114.1 199.2L114.6 198.3L115.1 197.4L115.6 196.3L116.1 195.2L116.6 193.9L117.2 192.5L117.7 191.1L118.2 189.6L118.7 188L119.2 186.3L119.7 184.6L120.2 182.8L120.7 181L121.2 179.1L121.7 177.3L122.2 175.4L122.7 173.5L123.2 171.6L123.7 169.8L124.2 167.9L124.7 166.1L125.2 164.3L125.7 162.6L126.2 160.9L126.7 159.3L127.2 157.8L127.7 156.4L128.3 155L128.8 153.7L129.3 152.6L129.8 151.5L130.3 150.6L130.8 149.7L131.3 149L131.8 148.4L132.3 148L132.8 147.7L133.3 147.5L133.8 147.4L134.3 147.4L134.8 147.6L135.3 147.8L135.8 148.1L136.3 148.5L136.8 149L137.3 149.6L137.8 150.2L138.3 150.9L138.8 151.7L139.3 152.5L139.8 153.4L140.3 154.4L140.8 155.4L141.3 156.4L141.8 157.4L142.3 158.5L142.8 159.6L143.4 160.7L143.9 161.8L144.4 162.9L144.9 164L145.4 165L145.9 166L146.4 167L146.9 168L147.4 168.9L147.9 169.7L148.4 170.5L148.9 171.2L149.4 171.8L149.9 172.4L150.4 172.9L150.9 173.3L151.4 173.6L151.9 173.8L152.4 174L152.9 174L153.4 174L153.9 173.8L154.4 173.6L154.9 173.3L155.4 172.9L156 172.4L156.5 171.9L157 171.2L157.5 170.5L158 169.8L158.5 168.9L159 168.1L159.5 167.2L160 166.2L160.5 165.3L161 164.3L161.5 163.3L162.1 162.2L162.6 161.2L163.1 160.2L163.6 159.3L164.1 158.3L164.6 157.4L165.1 156.6L165.6 155.7L166.1 155L166.6 154.3L167.1 153.6L167.6 153.1L168.2 152.6L168.7 152.2L169.2 151.9L169.7 151.7L170.2 151.5L170.7 151.5L171.2 151.5L171.7 151.6L172.2 151.8L172.7 152.1L173.2 152.4L173.7 152.7L174.2 153.2L174.7 153.7L175.2 154.2L175.7 154.8L176.2 155.5L176.7 156.1L177.2 156.9L177.7 157.6L178.2 158.4L178.7 159.3L179.2 160.1L179.7 161L180.2 161.8L180.7 162.7L181.2 163.5L181.7 164.4L182.2 165.2L182.7 166.1L183.2 166.9L183.7 167.6L184.2 168.4L184.7 169L185.2 169.7L185.7 170.3L186.2 170.8L186.7 171.3L187.2 171.8L187.7 172.1L188.2 172.4L188.7 172.7L189.2 172.9L189.7 173L190.2 173L190.7 173L191.2 172.8L191.7 172.6L192.2 172.4L192.7 172L193.2 171.6L193.7 171.1L194.2 170.5L194.7 169.9L195.2 169.2L195.7 168.4L196.2 167.6L196.7 166.8L197.2 165.9L197.7 165L198.2 164.1L198.7 163.2L199.2 162.2L199.8 161.3L200.3 160.4L200.8 159.5L201.3 158.6L201.8 157.7L202.3 156.9L202.8 156.1L203.3 155.3L203.8 154.6L204.3 154L204.8 153.4L205.3 152.9L205.8 152.5L206.3 152.1L206.8 151.9L207.3 151.7L207.8 151.5L208.3 151.5L208.8 151.5L209.3 151.7L209.8 151.9L210.3 152.3L210.9 152.7L211.4 153.2L211.9 153.8L212.4 154.4L212.9 155.2L213.4 156L213.9 156.8L214.4 157.7L215 158.7L215.5 159.7L216 160.7L216.5 161.7L217 162.8L217.5 163.8L218 164.8L218.5 165.8L219 166.8L219.6 167.8L220.1 168.7L220.6 169.5L221.1 170.3L221.6 171.1L222.1 171.7L222.6 172.3L223.1 172.8L223.7 173.2L224.2 173.6L224.7 173.8L225.2 174L225.7 174L226.2 174L226.7 173.8L227.2 173.6L227.7 173.4L228.2 173L228.7 172.6L229.2 172.1L229.7 171.6L230.2 171L230.7 170.3L231.2 169.6L231.7 168.8L232.2 168L232.7 167.1L233.2 166.2L233.7 165.3L234.2 164.4L234.7 163.4L235.2 162.4L235.7 161.5L236.2 160.5L236.7 159.5L237.2 158.6L237.7 157.7L238.2 156.8L238.7 155.9L239.2 155.1L239.7 154.3L240.2 153.6L240.7 152.9L241.2 152.3L241.7 151.8L242.2 151.3L242.7 150.9L243.2 150.5L243.7 150.3L244.2 150.1L244.7 149.9L245.2 149.9L245.7 149.9L246.2 150.1L246.7 150.3L247.2 150.7L247.8 151.1L248.3 151.6L248.8 152.2L249.3 152.9L249.8 153.6L250.3 154.5L250.8 155.4L251.3 156.3L251.8 157.3L252.4 158.3L252.9 159.4L253.4 160.5L253.9 161.6L254.4 162.7L254.9 163.8L255.4 164.9L255.9 166L256.4 167.1L257 168.1L257.5 169.1L258 170L258.5 170.9L259 171.8L259.5 172.5L260 173.2L260.5 173.8L261 174.3L261.6 174.7L262.1 175.1L262.6 175.3L263.1 175.5L263.6 175.5L264.1 175.4L264.6 175.3L265.1 175L265.6 174.7L266.1 174.3L266.6 173.7L267.1 173.1L267.6 172.4L268.1 171.6L268.6 170.7L269.1 169.8L269.6 168.8L270.1 167.8L270.6 166.7L271.1 165.6L271.6 164.4L272.1 163.2L272.6 162L273.1 160.9L273.6 159.7L274.1 158.5L274.6 157.3L275.1 156.2L275.6 155.1L276.1 154.1L276.6 153.1L277.1 152.2L277.6 151.3L278.1 150.5L278.6 149.8L279.1 149.2L279.6 148.6L280.1 148.2L280.6 147.9L281.1 147.6L281.6 147.5L282.1 147.4L282.6 147.5L283.1 147.7L283.6 148.1L284.1 148.6L284.6 149.3L285.1 150.1L285.6 151L286.1 152.1L286.6 153.2L287.1 154.5L287.6 155.8L288.1 157.2L288.6 158.7L289.1 160.2L289.6 161.7L290.1 163.3L290.7 164.9L291.2 166.4L291.7 167.9L292.2 169.4L292.7 170.8L293.2 172.1L293.7 173.4L294.2 174.5L294.7 175.6L295.2 176.5L295.7 177.3L296.2 178L296.7 178.5L297.2 178.9L297.7 179.1L298.2 179.2L298.7 179.1L299.2 179L299.7 178.7L300.2 178.2L300.7 177.7L301.2 177.1L301.7 176.3L302.2 175.5L302.7 174.5L303.2 173.5L303.7 172.4L304.2 171.2L304.7 170L305.2 168.6L305.7 167.3L306.2 165.9L306.7 164.5L307.2 163L307.8 161.6L308.3 160.1L308.8 158.6L309.3 157.2L309.8 155.8L310.3 154.5L310.8 153.1L311.3 151.9L311.8 150.7L312.3 149.6L312.8 148.6L313.3 147.6L313.8 146.8L314.3 146L314.8 145.4L315.3 144.9L315.8 144.4L316.3 144.1L316.8 144L317.3 143.9L317.8 144L318.3 144.2L318.8 144.6L319.3 145.1L319.8 145.7L320.3 146.5L320.9 147.4L321.4 148.5L321.9 149.6L322.4 150.9L322.9 152.2L323.4 153.7L323.9 155.2L324.4 156.8L324.9 158.4L325.4 160.1L325.9 161.8L326.4 163.5L327 165.3L327.5 167L328 168.7L328.5 170.4L329 172L329.5 173.6L330 175.1L330.5 176.6L331 177.9L331.5 179.2L332 180.3L332.5 181.4L333.1 182.3L333.6 183.1L334.1 183.7L334.6 184.2L335.1 184.6L335.6 184.8L336.1 184.9L336.6 184.8L337.1 184.5L337.6 184.1L338.1 183.5L338.7 182.7L339.2 181.7L339.7 180.6L340.2 179.3L340.7 177.9L341.2 176.4L341.7 174.7L342.2 173L342.7 171.1L343.3 169.2L343.8 167.2L344.3 165.2L344.8 163.1L345.3 161.1L345.8 159L346.3 156.9L346.8 154.9L347.3 152.9L347.9 151L348.4 149.1L348.9 147.4L349.4 145.7L349.9 144.2L350.4 142.8L350.9 141.5L351.4 140.4L351.9 139.4L352.5 138.6L353 138L353.5 137.6L354 137.3L354.5 137.2L355 137.3L355.5 137.6L356 138.2L356.5 139L357 139.9L357.5 141.1L358 142.5L358.5 144L359 145.7L359.5 147.6L360 149.6L360.5 151.7L361 154L361.5 156.3L362 158.7L362.5 161.1L363 163.6L363.5 166.1L364 168.6L364.5 171L365 173.4L365.5 175.7L366 178L366.5 180.1L367 182.1L367.5 184L368 185.7L368.5 187.2L369 188.6L369.5 189.8L370 190.7L370.5 191.5L371 192.1L371.5 192.4L372 192.5L372.5 192.4L373 192L373.5 191.3L374 190.4L374.5 189.3L375 187.9L375.5 186.3L376 184.5L376.6 182.5L377.1 180.3L377.6 178L378.1 175.5L378.6 172.9L379.1 170.1L379.6 167.3L380.1 164.5L380.6 161.6L381.1 158.7L381.6 155.8L382.1 153L382.6 150.2L383.1 147.4L383.6 144.8L384.1 142.3L384.6 140L385.1 137.8L385.7 135.8L386.2 134L386.7 132.4L387.2 131L387.7 129.9L388.2 129L388.7 128.3L389.2 127.9L389.7 127.8L390.2 128L390.7 128.4L391.2 129.2L391.7 130.3L392.2 131.7L392.8 133.3L393.3 135.3L393.8 137.4L394.3 139.9L394.8 142.5L395.3 145.3L395.8 148.3L396.3 151.4L396.8 154.6L397.3 158L397.8 161.3L398.4 164.8L398.9 168.2L399.4 171.5L399.9 174.9L400.4 178.1L400.9 181.2L401.4 184.2L401.9 187L402.4 189.6L402.9 192.1L403.4 194.2L403.9 196.2L404.5 197.8L405 199.2L405.5 200.3L406 201.1L406.5 201.5L407 201.7L407.5 201.6L408 201.1L408.5 200.5L409 199.5L409.5 198.3L410 196.8L410.5 195.1L411 193.2L411.5 191L412.1 188.6L412.6 186.1L413.1 183.4L413.6 180.5L414.1 177.5L414.6 174.4L415.1 171.1L415.6 167.9L416.1 164.5L416.6 161.2L417.1 157.9L417.6 154.5L418.1 151.3L418.6 148L419.1 144.9L419.6 141.9L420.1 139L420.6 136.3L421.1 133.8L421.7 131.4L422.2 129.2L422.7 127.3L423.2 125.6L423.7 124.1L424.2 122.9L424.7 121.9L425.2 121.3L425.7 120.8L426.2 120.7L426.7 120.9L427.2 121.4L427.7 122.4L428.2 123.6L428.7 125.3L429.2 127.2L429.7 129.5L430.2 132.1L430.7 134.9L431.2 138L431.7 141.3L432.2 144.9L432.7 148.5L433.2 152.4L433.7 156.3L434.2 160.3L434.8 164.3L435.3 168.3L435.8 172.3L436.3 176.2L436.8 180.1L437.3 183.7L437.8 187.3L438.3 190.6L438.8 193.7L439.3 196.5L439.8 199.1L440.3 201.4L440.8 203.3L441.3 205L441.8 206.2L442.3 207.2L442.8 207.7L443.3 207.9L443.8 207.7L444.3 207.3L444.8 206.5L445.3 205.4L445.8 204L446.3 202.4L446.8 200.4L447.3 198.2L447.8 195.8L448.3 193.1L448.8 190.2L449.3 187.1L449.8 183.8L450.3 180.4L450.8 176.9L451.3 173.3L451.8 169.6L452.3 165.8L452.8 162L453.3 158.2L453.8 154.4L454.3 150.7L454.8 147.1L455.3 143.6L455.8 140.2L456.3 136.9L456.8 133.8L457.3 130.9L457.8 128.2L458.3 125.8L458.8 123.6L459.3 121.6L459.8 120L460.3 118.6L460.8 117.5L461.3 116.7L461.8 116.3L462.3 116.1L462.8 116.3L463.3 116.9L463.8 117.8L464.3 119.1L464.8 120.7L465.4 122.7L465.9 125L466.4 127.6L466.9 130.5L467.4 133.7L467.9 137.1L468.4 140.7L468.9 144.4L469.4 148.4L469.9 152.4L470.4 156.5L470.9 160.7L471.5 164.9L472 169.1L472.5 173.2L473 177.2L473.5 181.2L474 184.9L474.5 188.5L475 191.9L475.5 195.1L476 198L476.5 200.6L477 202.9L477.6 204.9L478.1 206.5L478.6 207.8L479.1 208.7L479.6 209.3L480.1 209.5L480.6 209.2L481.1 208.2L481.6 206.8L482.1 205.1L482.7 203.4L483.2 202L483.7 201L484.2 200.7" fill="none" stroke="#008000" stroke-width="2.7" stroke-linejoin="round" stroke-linecap="round"/>
<path d="M108.1 168.6L108.9 167.9L109.3 166.9L109.7 165.6L110.1 164L110.5 162.1L110.9 159.8L111.3 157.2L111.8 154.4L112.2 151.3L112.6 148L113 144.5L113.4 140.9L113.8 137.1L114.2 133.3L114.6 129.4L115 125.4L115.4 121.5L115.8 117.7L116.2 113.9L116.6 110.3L117 106.8L117.4 103.5L117.8 100.4L118.3 97.6L118.7 95L119.1 92.7L119.5 90.8L119.9 89.2L120.3 87.9L120.7 86.9L121.1 86.4L121.9 86.5L122.3 87.2L122.8 88.5L123.2 90.3L123.6 92.5L124 95.1L124.4 98.1L124.8 101.3L125.3 104.9L125.7 108.5L126.1 112.3L126.5 116.2L126.9 120L127.3 123.6L127.8 127.2L128.2 130.4L128.6 133.4L129 136L129.4 138.2L129.8 140L130.3 141.3L130.7 142L131.1 142.3L131.5 142.1L131.9 141.5L132.3 140.5L132.7 139.2L133.1 137.4L133.5 135.4L133.9 133L134.3 130.4L134.7 127.5L135.1 124.5L135.5 121.2L135.9 117.9L136.3 114.5L136.8 111L137.2 107.6L137.6 104.3L138 101L138.4 98L138.8 95.1L139.2 92.5L139.6 90.1L140 88.1L140.4 86.3L140.8 85L141.2 84L141.6 83.4L142 83.2L142.4 83.5L142.8 84.4L143.2 85.8L143.6 87.8L144 90.3L144.4 93.2L144.9 96.6L145.3 100.3L145.7 104.3L146.1 108.5L146.5 112.9L146.9 117.4L147.3 121.9L147.7 126.3L148.1 130.5L148.5 134.5L148.9 138.2L149.4 141.6L149.8 144.5L150.2 147L150.6 149L151 150.4L151.4 151.3L151.8 151.6L152.2 151.3L152.6 150.4L153 148.9L153.4 146.9L153.9 144.3L154.3 141.2L154.7 137.7L155.1 133.7L155.5 129.4L155.9 124.9L156.3 120.1L156.7 115.2L157.2 110.2L157.6 105.2L158 100.3L158.4 95.5L158.8 91L159.2 86.7L159.6 82.7L160 79.2L160.4 76.1L160.9 73.5L161.3 71.5L161.7 70L162.1 69.1L162.5 68.8L162.9 69.4L163.3 71.1L163.7 73.9L164.1 77.8L164.5 82.7L165 88.4L165.4 94.8L165.8 101.8L166.2 109.2L166.6 116.9L167 124.6L167.4 132.3L167.8 139.7L168.2 146.7L168.6 153.1L169.1 158.8L169.5 163.7L169.9 167.6L170.3 170.4L170.7 172.1L171.1 172.7L171.5 172.3L171.9 170.9L172.3 168.8L172.7 165.8L173.1 162L173.5 157.5L173.9 152.3L174.3 146.5L174.7 140.1L175.1 133.4L175.5 126.2L175.9 118.9L176.3 111.3L176.8 103.8L177.2 96.2L177.6 88.9L178 81.7L178.4 75L178.8 68.6L179.2 62.8L179.6 57.6L180 53.1L180.4 49.3L180.8 46.3L181.2 44.2L181.6 42.8L182 42.4L182.4 43.2L182.8 45.7L183.3 49.7L183.7 55.2L184.1 62.1L184.5 70.2L184.9 79.4L185.3 89.5L185.8 100.3L186.2 111.5L186.6 123L187 134.5L187.4 145.7L187.9 156.5L188.3 166.6L188.7 175.8L189.1 183.9L189.5 190.8L189.9 196.3L190.4 200.3L190.8 202.8L191.2 203.6L191.6 203L192 201.1L192.4 197.9L192.8 193.6L193.2 188.1L193.6 181.5L194.1 174L194.5 165.6L194.9 156.4L195.3 146.7L195.7 136.3L196.1 125.7L196.5 114.8L196.9 103.8L197.3 92.9L197.7 82.3L198.1 71.9L198.5 62.2L198.9 53L199.3 44.6L199.8 37.1L200.2 30.5L200.6 25L201 20.7L201.4 17.5L201.8 15.6L202.2 15L202.6 15.9L203 18.5L203.4 22.7L203.8 28.6L204.2 36L204.6 44.7L205 54.7L205.4 65.8L205.8 77.7L206.2 90.3L206.6 103.3L207 116.5L207.4 129.8L207.8 142.8L208.2 155.4L208.6 167.3L209 178.4L209.4 188.4L209.8 197.1L210.2 204.5L210.6 210.4L211 214.6L211.4 217.2L211.8 218.1L212.2 217.4L212.6 215.4L213 212L213.4 207.4L213.8 201.6L214.2 194.6L214.6 186.6L215 177.6L215.4 167.8L215.8 157.4L216.2 146.4L216.6 135L217 123.4L217.5 111.7L217.9 100.1L218.3 88.7L218.7 77.7L219.1 67.3L219.5 57.5L219.9 48.5L220.3 40.5L220.7 33.5L221.1 27.7L221.5 23.1L221.9 19.7L222.3 17.7L222.7 17L223.1 17.8L223.5 20.2L223.9 24.1L224.3 29.5L224.7 36.3L225.1 44.4L225.6 53.5L226 63.7L226.4 74.7L226.8 86.2L227.2 98.2L227.6 110.4L228 122.6L228.4 134.6L228.8 146.1L229.2 157.1L229.6 167.3L230.1 176.4L230.5 184.5L230.9 191.3L231.3 196.7L231.7 200.6L232.1 203L232.5 203.8L232.9 203.3L233.3 201.8L233.7 199.4L234.1 196.1L234.5 191.8L234.9 186.8L235.3 180.9L235.7 174.3L236.1 167.1L236.5 159.4L236.9 151.1L237.3 142.6L237.7 133.7L238.1 124.7L238.6 115.7L239 106.7L239.4 97.8L239.8 89.3L240.2 81L240.6 73.3L241 66.1L241.4 59.5L241.8 53.6L242.2 48.6L242.6 44.3L243 41L243.4 38.6L243.8 37.1L244.2 36.6L244.6 37.3L245 39.2L245.4 42.5L245.8 47L246.2 52.7L246.6 59.4L247.1 67L247.5 75.5L247.9 84.6L248.3 94.2L248.7 104.2L249.1 114.3L249.5 124.5L249.9 134.5L250.3 144.1L250.7 153.2L251.1 161.7L251.6 169.3L252 176L252.4 181.7L252.8 186.2L253.2 189.5L253.6 191.4L254 192.1L254.4 191.6L254.8 190.2L255.2 187.9L255.6 184.7L256 180.6L256.4 175.7L256.8 170.1L257.2 163.8L257.6 156.9L258 149.6L258.4 141.8L258.8 133.7L259.2 125.4L259.6 117L260.1 108.5L260.5 100.2L260.9 92.1L261.3 84.3L261.7 77L262.1 70.1L262.5 63.8L262.9 58.2L263.3 53.3L263.7 49.2L264.1 46L264.5 43.7L264.9 42.3L265.3 41.8L265.7 42.5L266.1 44.6L266.6 48L267 52.6L267.4 58.5L267.8 65.4L268.2 73.3L268.6 81.9L269.1 91.3L269.5 101L269.9 111.1L270.3 121.2L270.7 131.3L271.1 141L271.6 150.4L272 159L272.4 166.9L272.8 173.8L273.2 179.7L273.6 184.3L274.1 187.7L274.5 189.8L274.9 190.5L275.3 190L275.7 188.5L276.1 186L276.5 182.6L276.9 178.2L277.3 173L277.7 167.1L278.1 160.4L278.5 153.2L278.9 145.4L279.3 137.2L279.7 128.8L280.1 120.1L280.6 111.5L281 102.8L281.4 94.4L281.8 86.2L282.2 78.5L282.6 71.2L283 64.5L283.4 58.6L283.8 53.4L284.2 49L284.6 45.6L285 43.1L285.4 41.6L285.8 41.1L286.2 41.8L286.6 43.9L287 47.4L287.4 52.2L287.8 58.2L288.2 65.3L288.6 73.4L289 82.2L289.4 91.8L289.8 101.8L290.2 112.1L290.7 122.5L291.1 132.8L291.5 142.8L291.9 152.4L292.3 161.2L292.7 169.3L293.1 176.4L293.5 182.4L293.9 187.2L294.3 190.7L294.7 192.8L295.1 193.5L295.5 193L295.9 191.5L296.3 189.1L296.7 185.7L297.1 181.4L297.5 176.3L297.9 170.4L298.3 163.8L298.7 156.6L299.1 148.8L299.5 140.6L299.9 132.1L300.3 123.4L300.8 114.6L301.2 105.7L301.6 97L302 88.5L302.4 80.3L302.8 72.5L303.2 65.3L303.6 58.7L304 52.8L304.4 47.7L304.8 43.4L305.2 40L305.6 37.6L306 36.1L306.4 35.6L306.8 36.4L307.2 38.7L307.6 42.4L308 47.6L308.4 54L308.8 61.7L309.2 70.4L309.6 80L310 90.3L310.4 101.1L310.8 112.2L311.2 123.5L311.6 134.6L312 145.4L312.4 155.7L312.8 165.3L313.2 174L313.6 181.7L314 188.1L314.4 193.3L314.8 197L315.2 199.3L315.6 200.1L316 199.6L316.4 198L316.8 195.3L317.2 191.7L317.6 187.1L318 181.6L318.4 175.3L318.8 168.2L319.2 160.4L319.6 152.1L320 143.3L320.4 134.2L320.8 124.8L321.2 115.3L321.7 105.8L322.1 96.4L322.5 87.3L322.9 78.5L323.3 70.2L323.7 62.4L324.1 55.3L324.5 49L324.9 43.5L325.3 38.9L325.7 35.3L326.1 32.6L326.5 31L326.9 30.5L327.3 31.2L327.7 33.4L328.1 37.1L328.5 42.1L328.9 48.4L329.3 55.8L329.7 64.3L330.1 73.7L330.5 83.9L330.9 94.6L331.3 105.7L331.7 116.9L332.1 128.2L332.5 139.3L332.9 150L333.3 160.2L333.7 169.6L334.1 178.1L334.5 185.5L334.9 191.8L335.3 196.8L335.7 200.5L336.1 202.7L336.5 203.4L336.9 202.9L337.3 201.2L337.7 198.6L338.1 194.9L338.6 190.2L339 184.6L339.4 178.2L339.8 171L340.2 163.2L340.6 154.7L341 145.8L341.4 136.6L341.8 127.1L342.2 117.5L342.7 107.8L343.1 98.3L343.5 89.1L343.9 80.2L344.3 71.7L344.7 63.9L345.1 56.7L345.5 50.3L345.9 44.7L346.4 40L346.8 36.3L347.2 33.7L347.6 32L348 31.5L348.4 32.2L348.8 34.4L349.2 38L349.6 42.9L350 49L350.4 56.3L350.8 64.7L351.2 73.9L351.6 83.8L352 94.4L352.4 105.2L352.8 116.3L353.2 127.4L353.6 138.2L354 148.8L354.4 158.7L354.8 167.9L355.2 176.3L355.6 183.6L356 189.7L356.4 194.6L356.8 198.2L357.2 200.4L357.6 201.1L358 200.6L358.4 199L358.8 196.5L359.2 192.9L359.6 188.5L360 183.1L360.4 177L360.8 170.1L361.2 162.5L361.6 154.4L362 145.9L362.4 137L362.8 127.9L363.2 118.7L363.7 109.4L364.1 100.3L364.5 91.4L364.9 82.9L365.3 74.8L365.7 67.2L366.1 60.3L366.5 54.2L366.9 48.8L367.3 44.4L367.7 40.8L368.1 38.3L368.5 36.7L368.9 36.2L369.3 36.9L369.7 39.1L370.1 42.8L370.5 47.8L370.9 54L371.3 61.4L371.7 69.9L372.1 79.1L372.5 89.1L372.9 99.5L373.3 110.3L373.7 121.1L374.1 131.9L374.5 142.3L374.9 152.3L375.3 161.5L375.7 170L376.1 177.4L376.5 183.6L376.9 188.6L377.3 192.3L377.7 194.5L378.1 195.2L378.5 194.7L378.9 193.3L379.3 191L379.7 187.9L380.2 183.8L380.6 179L381 173.5L381.4 167.2L381.8 160.4L382.2 153L382.6 145.3L383 137.1L383.4 128.7L383.8 120.2L384.3 111.6L384.7 103.1L385.1 94.7L385.5 86.5L385.9 78.8L386.3 71.4L386.7 64.6L387.1 58.3L387.5 52.8L387.9 48L388.4 43.9L388.8 40.8L389.2 38.5L389.6 37.1L390 36.6L390.4 37.4L390.8 39.8L391.3 43.8L391.7 49.3L392.1 56.1L392.5 64.1L392.9 73.2L393.3 83.2L393.8 93.8L394.2 105L394.6 116.3L395 127.6L395.4 138.8L395.9 149.4L396.3 159.4L396.7 168.5L397.1 176.5L397.5 183.3L397.9 188.8L398.4 192.8L398.8 195.2L399.2 196L399.6 195.5L400 194L400.4 191.6L400.8 188.2L401.2 183.9L401.6 178.7L402 172.8L402.4 166.2L402.8 159L403.2 151.2L403.6 143L404 134.5L404.4 125.7L404.9 116.9L405.3 108L405.7 99.2L406.1 90.7L406.5 82.5L406.9 74.7L407.3 67.5L407.7 60.9L408.1 55L408.5 49.8L408.9 45.5L409.3 42.1L409.7 39.7L410.1 38.2L410.5 37.7L410.9 38.4L411.3 40.4L411.7 43.7L412.1 48.3L412.5 54.1L412.9 61L413.3 68.8L413.7 77.4L414.1 86.7L414.5 96.6L414.9 106.8L415.3 117.1L415.7 127.5L416.1 137.7L416.5 147.6L416.9 156.9L417.3 165.5L417.7 173.3L418.1 180.2L418.5 186L418.9 190.6L419.3 193.9L419.7 195.9L420.1 196.6L420.5 196.1L420.9 194.6L421.3 192.1L421.7 188.6L422.1 184.2L422.5 178.9L422.9 172.9L423.3 166.1L423.7 158.7L424.1 150.7L424.5 142.4L424.9 133.6L425.3 124.7L425.8 115.6L426.2 106.5L426.6 97.6L427 88.8L427.4 80.5L427.8 72.5L428.2 65.1L428.6 58.3L429 52.3L429.4 47L429.8 42.6L430.2 39.1L430.6 36.6L431 35.1L431.4 34.6L431.8 35.3L432.2 37.4L432.6 40.9L433 45.7L433.4 51.8L433.8 58.9L434.3 67.1L434.7 76.1L435.1 85.9L435.5 96.2L435.9 106.8L436.3 117.6L436.7 128.5L437.1 139.1L437.5 149.4L437.9 159.2L438.3 168.2L438.8 176.4L439.2 183.5L439.6 189.6L440 194.4L440.4 197.9L440.8 200L441.2 200.7L441.6 200.1L442 198.3L442.4 195.3L442.8 191.1L443.3 185.9L443.7 179.6L444.1 172.5L444.5 164.5L444.9 155.8L445.3 146.6L445.7 136.9L446.1 127L446.5 116.9L447 106.7L447.4 96.8L447.8 87.1L448.2 77.9L448.6 69.2L449 61.2L449.4 54.1L449.8 47.8L450.3 42.6L450.7 38.4L451.1 35.4L451.5 33.6L451.9 33L452.3 33.7L452.7 35.8L453.1 39.3L453.5 44.2L453.9 50.2L454.3 57.4L454.8 65.6L455.2 74.7L455.6 84.5L456 94.8L456.4 105.5L456.8 116.3L457.2 127.2L457.6 137.9L458 148.2L458.4 158L458.8 167.1L459.2 175.3L459.7 182.5L460.1 188.5L460.5 193.4L460.9 196.9L461.3 199L461.7 199.7L462.1 199.2L462.5 197.6L462.9 195L463.3 191.5L463.7 187L464.1 181.6L464.5 175.4L464.9 168.4L465.3 160.8L465.7 152.7L466.1 144.1L466.5 135.1L466.9 125.9L467.4 116.7L467.8 107.4L468.2 98.2L468.6 89.2L469 80.6L469.4 72.5L469.8 64.9L470.2 57.9L470.6 51.7L471 46.3L471.4 41.8L471.8 38.3L472.2 35.7L472.6 34.1L473 33.6L473.4 34.3L473.8 36.4L474.2 39.9L474.6 44.7L475 50.8L475.4 58L475.9 66.2L476.3 75.2L476.7 85L477.1 95.3L477.5 105.9L477.9 116.8L478.3 127.7L478.7 138.3L479.1 148.6L479.5 158.4L479.9 167.4L480.4 175.6L480.8 182.8L481.2 188.9L481.6 193.7L482 197.2L482.4 199.3L482.8 200L483.2 199L483.7 196.5L484.2 194L484.6 193" fill="none" stroke="#000" stroke-width="2.7" stroke-linejoin="round" stroke-linecap="round"/>
<path d="M107.5 210.2L107.6 210.8L107.7 211.5L107.8 212.1L107.9 212.8L108 213.4L108.1 213.9L108.2 214.5L108.3 215L108.4 215.5L108.5 216L108.6 216.5L108.7 216.9L108.8 217.4L108.9 217.8L109 218.3L109.1 218.7L109.2 219.2L109.4 220L109.6 220.9L109.8 221.7 M124.6 233.1L125.1 232.9L125.6 232.7L126.1 232.4L126.6 232.2L127 232L127.4 231.7L127.8 231.5L128.2 231.3L128.6 231L129 230.8L129.4 230.6L129.8 230.3L130.2 230.1L130.6 229.8L131 229.6L131.4 229.3L131.8 229.1L132.2 228.8L132.6 228.6L133 228.4L133.4 228.1L133.8 227.9L134.2 227.6L134.6 227.4L135 227.1L135.4 226.9L135.8 226.6L136.2 226.3L136.6 226.1L137 225.8L137.4 225.5L137.8 225.3L138.2 225L138.4 224.9 M160.5 212.4L161 212.2L161.5 212.1L162 212L162.5 211.9L163 211.7L163.5 211.6L164 211.5L164.5 211.4L165 211.3L165.5 211.2L166 211.2L166.5 211.1L167 211L167.5 211L168 210.9L168.5 210.9L169 210.9L169.5 210.8L170 210.8L170.5 210.8L171 210.7L171.5 210.7L172 210.7L172.5 210.7L173 210.6L173.5 210.6L174 210.6L174.4 210.6 M196.6 212.7L197.1 212.8L197.6 212.9L198.1 212.9L198.6 213L199.1 213.1L199.6 213.1L200.1 213.2L200.6 213.3L201.1 213.4L201.6 213.4L202.1 213.5L202.6 213.6L203.1 213.7L203.6 213.8L204.1 213.9L204.6 214L205.1 214L205.6 214.1L206.1 214.2L206.6 214.3L207.1 214.4L207.6 214.5L208.1 214.6L208.6 214.6L209.1 214.7L209.6 214.8 M231.7 216L232.2 216L232.7 216L233.2 216L233.7 216L234.2 216L234.7 216L235.2 216L235.7 216L236.2 216L236.7 215.9L237.2 215.9L237.7 215.9L238.2 215.9L238.7 215.9L239.2 215.9L239.7 215.8L240.2 215.8L240.7 215.8L241.2 215.8L241.7 215.8L242.2 215.8L242.7 215.7L243.2 215.7L243.7 215.7L244.2 215.7L244.7 215.6L245.2 215.6L245.7 215.6L246.2 215.6L246.7 215.6L246.9 215.5 M267.6 214.7L268.1 214.7L268.6 214.7L269.1 214.7L269.6 214.6L270.1 214.6L270.6 214.6L271.1 214.6L271.6 214.6L272.1 214.6L272.6 214.5L273.1 214.5L273.6 214.5L274.1 214.5L274.6 214.5L275.1 214.5L275.6 214.5L276.1 214.5L276.6 214.4L277.1 214.4L277.6 214.4L278.1 214.4L278.6 214.4L279.1 214.4L279.6 214.4L280.1 214.4L280.6 214.4L281.1 214.4L281.6 214.4L282.1 214.4L282.3 214.4 M303.2 214.3L303.7 214.3L304.2 214.3L304.7 214.4L305.2 214.4L305.7 214.4L306.2 214.4L306.7 214.4L307.2 214.4L307.7 214.4L308.2 214.5L308.7 214.5L309.2 214.5L309.7 214.5L310.2 214.5L310.7 214.5L311.2 214.6L311.7 214.6L312.2 214.6L312.7 214.6L313.2 214.6L313.7 214.7L314.2 214.7L314.7 214.7L315.2 214.7L315.7 214.7L316.2 214.8L316.7 214.8L317.2 214.8L317.7 214.8L318.2 214.8L318.5 214.9 M339.4 215.6L339.9 215.6L340.4 215.7L340.9 215.7L341.4 215.7L341.9 215.7L342.4 215.7L342.9 215.7L343.4 215.7L343.9 215.7L344.4 215.7L344.9 215.7L345.4 215.7L345.9 215.7L346.4 215.7L346.9 215.7L347.4 215.7L347.9 215.7L348.4 215.7L348.9 215.7L349.4 215.7L349.9 215.7L350.4 215.7L350.9 215.7L351.4 215.7L351.9 215.7L352.4 215.7L352.9 215.7L353.4 215.6L353.8 215.6 M374.9 215.3L375.4 215.3L375.9 215.3L376.4 215.3L376.9 215.3L377.4 215.3L377.9 215.2L378.4 215.2L378.9 215.2L379.4 215.2L379.9 215.2L380.4 215.2L380.9 215.2L381.4 215.2L381.9 215.2L382.4 215.1L382.9 215.1L383.4 215.1L383.9 215.1L384.4 215.1L384.9 215.1L385.4 215.1L385.9 215.1L386.4 215.1L386.9 215.1L387.4 215L387.9 215L388.4 215L388.9 215L389.4 215L389.9 215L390.2 215 M410.9 214.9L411.4 214.9L411.9 214.9L412.4 214.8L412.9 214.8L413.4 214.8L413.9 214.8L414.4 214.8L414.9 214.8L415.4 214.8L415.9 214.8L416.4 214.8L416.9 214.8L417.4 214.8L417.9 214.8L418.4 214.8L418.9 214.8L419.4 214.8L419.9 214.8L420.4 214.8L420.9 214.8L421.4 214.8L421.9 214.8L422.4 214.8L422.9 214.8L423.4 214.8L423.9 214.8L424.4 214.8L424.9 214.8L425.4 214.8L425.7 214.8 M446.6 215.1L447.1 215.1L447.6 215.1L448.1 215.1L448.6 215.1L449.1 215.1L449.6 215.1L450.1 215.1L450.6 215.2L451.1 215.2L451.6 215.2L452.1 215.2L452.6 215.2L453.1 215.2L453.6 215.2L454.1 215.2L454.6 215.2L455.1 215.2L455.6 215.3L456.1 215.3L456.6 215.3L457.1 215.3L457.6 215.3L458.1 215.3L458.6 215.3L459.1 215.3L459.6 215.3L460.1 215.3L460.6 215.3L461.1 215.3L461.3 215.3 M483.1 215.4L483.6 215.4L484.1 215.4L484.6 215.4L485.1 215.4L485.6 215.4L486.1 215.4L486.6 215.4L487.1 215.4L487.4 215.4" fill="none" stroke="#000" stroke-width="5.0" stroke-linecap="round" stroke-linejoin="round"/>
</g>
<g clip-path="url(#cb)">
<path d="M106.7 326L107.2 336.7L107.7 347.1L108.2 357.7L108.7 366.5L109.2 373.2L109.7 378.9L110.2 384.1L110.7 388.8L111.2 392.7L111.7 396.3L112.2 399.1L112.7 401.1L113.2 402.7L113.7 404L114.2 405.1L114.7 405.9L115.2 406.7L115.7 407.3L116.2 407.8L116.7 408.1L117.2 408.4L117.7 408.7L118.2 408.9L118.7 409L119.2 409L119.7 408.9L120.2 408.8L120.7 408.6L121.2 408.4L121.7 408.2L122.2 407.9L122.7 407.6L123.2 407.2L123.7 406.7L124.2 406.2L124.7 405.6L125.2 404.9L125.7 404.2L126.2 403.4L126.7 402.5L127.2 401.7L127.7 400.8L128.2 400L128.7 399.1L129.2 398.2L129.7 397.2L130.2 396.3L130.7 395.3L131.2 394.3L131.7 393.3L132.2 392.3L132.7 391.3L133.2 390.4L133.7 389.5L134.2 388.6L134.7 387.8L135.2 387L135.7 386.2L136.2 385.4L136.7 384.7L137.2 384L137.7 383.2L138.2 382.5L138.7 381.8L139.2 381.2L139.7 380.5L140.2 379.8L140.7 379.2L141.2 378.5L141.7 377.9L142.2 377.2L142.7 376.6L143.2 376L143.7 375.3L144.2 374.7L144.7 374.1L145.2 373.5L145.7 372.9L146.2 372.3L146.7 371.7L147.2 371.1L147.7 370.5L148.2 369.9L148.7 369.3L149.2 368.7L149.7 368.1L150.2 367.5L150.7 366.9L151.2 366.3L151.7 365.8L152.2 365.2L152.7 364.7L153.2 364.1L153.7 363.6L154.2 363.1L154.7 362.6L155.2 362.1L155.7 361.6L156.2 361.1L156.7 360.6L157.2 360.2L157.7 359.7L158.2 359.2L158.7 358.8L159.2 358.3L159.7 357.9L160.2 357.5L160.7 357.1L161.2 356.7L161.7 356.3L162.2 356L162.7 355.7L163.2 355.4L163.7 355.1L164.2 354.8L164.7 354.6L165.2 354.3L165.7 354.1L166.2 353.9L166.7 353.6L167.2 353.4L167.7 353.2L168.2 353.1L168.7 352.9L169.2 352.8L169.7 352.7L170.2 352.6L170.7 352.5L171.2 352.4L171.7 352.3L172.2 352.2L172.7 352.1L173.2 352.1L173.7 352L174.2 351.9L174.7 351.9L175.2 351.9L175.7 351.8L176.2 351.8L176.7 351.8L177.2 351.8L177.7 351.8L178.2 351.8L178.7 351.9L179.2 351.9L179.7 352L180.2 352L180.7 352.1L181.2 352.2L181.7 352.3L182.2 352.3L182.7 352.4L183.2 352.5L183.7 352.6L184.2 352.7L184.7 352.8L185.2 352.9L185.7 353L186.2 353L186.7 353.1L187.2 353.2L187.7 353.3L188.2 353.4L188.7 353.5L189.2 353.6L189.7 353.7L190.2 353.8L190.7 353.9L191.2 354L191.7 354.1L192.2 354.2L192.7 354.3L193.2 354.4L193.7 354.5L194.2 354.6L194.7 354.7L195.2 354.8L195.7 355L196.2 355.1L196.7 355.2L197.2 355.4L197.7 355.5L198.2 355.6L198.7 355.8L199.2 355.9L199.7 356.1L200.2 356.2L200.7 356.4L201.2 356.5L201.7 356.7L202.2 356.9L202.7 357L203.2 357.2L203.7 357.3L204.2 357.5L204.7 357.7L205.2 357.8L205.7 358L206.2 358.2L206.7 358.3L207.2 358.5L207.7 358.7L208.2 358.8L208.7 359L209.2 359.2L209.7 359.3L210.2 359.5L210.7 359.6L211.2 359.8L211.7 359.9L212.2 360.1L212.7 360.2L213.2 360.4L213.7 360.5L214.2 360.7L214.7 360.8L215.2 360.9L215.7 361.1L216.2 361.2L216.7 361.3L217.2 361.4L217.7 361.6L218.2 361.7L218.7 361.8L219.2 362L219.7 362.1L220.2 362.2L220.7 362.3L221.2 362.5L221.7 362.6L222.2 362.7L222.7 362.8L223.2 363L223.7 363.1L224.2 363.2L224.7 363.3L225.2 363.4L225.7 363.5L226.2 363.6L226.7 363.7L227.2 363.8L227.7 363.9L228.2 364L228.7 364L229.2 364.1L229.7 364.2L230.2 364.2L230.7 364.3L231.2 364.3L231.7 364.4L232.2 364.4L232.7 364.5L233.2 364.5L233.7 364.6L234.2 364.6L234.7 364.7L235.2 364.7L235.7 364.8L236.2 364.8L236.7 364.9L237.2 364.9L237.7 364.9L238.2 365L238.7 365L239.2 365L239.7 365L240.2 365.1L240.7 365.1L241.2 365.1L241.7 365.1L242.2 365.1L242.7 365.1L243.2 365.1L243.7 365.1L244.2 365.1L244.7 365L245.2 365L245.7 365L246.2 364.9L246.7 364.9L247.2 364.9L247.7 364.8L248.2 364.8L248.7 364.7L249.2 364.7L249.7 364.6L250.2 364.6L250.7 364.5L251.2 364.5L251.7 364.4L252.2 364.3L252.7 364.3L253.2 364.2L253.7 364.1L254.2 364.1L254.7 364L255.2 364L255.7 363.9L256.2 363.8L256.7 363.8L257.2 363.7L257.7 363.6L258.2 363.6L258.7 363.5L259.2 363.4L259.7 363.4L260.2 363.3L260.7 363.2L261.2 363.2L261.7 363.1L262.2 363L262.7 362.9L263.2 362.8L263.7 362.7L264.2 362.7L264.7 362.6L265.2 362.5L265.7 362.4L266.2 362.3L266.7 362.2L267.2 362.1L267.7 362L268.2 361.9L268.7 361.8L269.2 361.7L269.7 361.6L270.2 361.5L270.7 361.4L271.2 361.4L271.7 361.3L272.2 361.2L272.7 361.1L273.2 361L273.7 360.9L274.2 360.8L274.7 360.7L275.2 360.7L275.7 360.6L276.2 360.5L276.7 360.4L277.2 360.4L277.7 360.3L278.2 360.2L278.7 360.2L279.2 360.1L279.7 360L280.2 360L280.7 359.9L281.2 359.8L281.7 359.8L282.2 359.7L282.7 359.6L283.2 359.6L283.7 359.5L284.2 359.4L284.7 359.4L285.2 359.3L285.7 359.2L286.2 359.2L286.7 359.1L287.2 359.1L287.7 359L288.2 358.9L288.7 358.9L289.2 358.8L289.7 358.8L290.2 358.7L290.7 358.7L291.2 358.6L291.7 358.6L292.2 358.5L292.7 358.5L293.2 358.4L293.7 358.4L294.2 358.4L294.7 358.3L295.2 358.3L295.7 358.2L296.2 358.2L296.7 358.2L297.2 358.1L297.7 358.1L298.2 358.1L298.7 358L299.2 358L299.7 358L300.2 357.9L300.7 357.9L301.2 357.9L301.7 357.9L302.2 357.9L302.7 357.9L303.2 357.9L303.7 357.9L304.2 357.9L304.7 357.9L305.2 358L305.7 358L306.2 358L306.7 358L307.2 358.1L307.7 358.1L308.2 358.1L308.7 358.1L309.2 358.2L309.7 358.2L310.2 358.3L310.7 358.3L311.2 358.3L311.7 358.4L312.2 358.4L312.7 358.5L313.2 358.5L313.7 358.6L314.2 358.6L314.7 358.7L315.2 358.7L315.7 358.8L316.2 358.8L316.7 358.9L317.2 358.9L317.7 359L318.2 359L318.7 359.1L319.2 359.1L319.7 359.2L320.2 359.2L320.7 359.3L321.2 359.3L321.7 359.4L322.2 359.4L322.7 359.5L323.2 359.5L323.7 359.6L324.2 359.7L324.7 359.7L325.2 359.8L325.7 359.9L326.2 359.9L326.7 360L327.2 360.1L327.7 360.1L328.2 360.2L328.7 360.3L329.2 360.3L329.7 360.4L330.2 360.5L330.7 360.5L331.2 360.6L331.7 360.7L332.2 360.8L332.7 360.8L333.2 360.9L333.7 361L334.2 361L334.7 361.1L335.2 361.2L335.7 361.3L336.2 361.3L336.7 361.4L337.2 361.5L337.7 361.5L338.2 361.6L338.7 361.6L339.2 361.7L339.7 361.8L340.2 361.8L340.7 361.9L341.2 361.9L341.7 362L342.2 362.1L342.7 362.1L343.2 362.2L343.7 362.3L344.2 362.3L344.7 362.4L345.2 362.4L345.7 362.5L346.2 362.6L346.7 362.6L347.2 362.7L347.7 362.7L348.2 362.8L348.7 362.8L349.2 362.9L349.7 362.9L350.2 362.9L350.7 363L351.2 363L351.7 363L352.2 363L352.7 363.1L353.2 363.1L353.7 363.1L354.2 363.1L354.7 363.1L355.2 363.2L355.7 363.2L356.2 363.2L356.7 363.2L357.2 363.2L357.7 363.3L358.2 363.3L358.7 363.3L359.2 363.3L359.7 363.3L360.2 363.3L360.7 363.3L361.2 363.3L361.7 363.4L362.2 363.4L362.7 363.4L363.2 363.4L363.7 363.4L364.2 363.4L364.7 363.4L365.2 363.4L365.7 363.4L366.2 363.4L366.7 363.4L367.2 363.4L367.7 363.4L368.2 363.3L368.7 363.3L369.2 363.3L369.7 363.3L370.2 363.2L370.7 363.2L371.2 363.2L371.7 363.1L372.2 363.1L372.7 363L373.2 363L373.7 362.9L374.2 362.9L374.7 362.8L375.2 362.8L375.7 362.7L376.2 362.7L376.7 362.6L377.2 362.6L377.7 362.5L378.2 362.5L378.7 362.4L379.2 362.4L379.7 362.3L380.2 362.3L380.7 362.2L381.2 362.2L381.7 362.1L382.2 362.1L382.7 362L383.2 362L383.7 361.9L384.2 361.9L384.7 361.8L385.2 361.8L385.7 361.7L386.2 361.7L386.7 361.6L387.2 361.5L387.7 361.5L388.2 361.4L388.7 361.4L389.2 361.3L389.7 361.3L390.2 361.3L390.7 361.2L391.2 361.2L391.7 361.2L392.2 361.1L392.7 361.1L393.2 361L393.7 361L394.2 361L394.7 360.9L395.2 360.9L395.7 360.9L396.2 360.9L396.7 360.8L397.2 360.8L397.7 360.8L398.2 360.7L398.7 360.7L399.2 360.7L399.7 360.6L400.2 360.6L400.7 360.6L401.2 360.6L401.7 360.5L402.2 360.5L402.7 360.5L403.2 360.5L403.7 360.4L404.2 360.4L404.7 360.4L405.2 360.4L405.7 360.3L406.2 360.3L406.7 360.3L407.2 360.3L407.7 360.3L408.2 360.3L408.7 360.2L409.2 360.2L409.7 360.2L410.2 360.2L410.7 360.2L411.2 360.2L411.7 360.2L412.2 360.1L412.7 360.1L413.2 360.1L413.7 360.1L414.2 360.1L414.7 360.1L415.2 360.1L415.7 360L416.2 360L416.7 360L417.2 360L417.7 360L418.2 360L418.7 360L419.2 360L419.7 360L420.2 360L420.7 359.9L421.2 359.9L421.7 359.9L422.2 359.9L422.7 359.9L423.2 359.9L423.7 359.9L424.2 359.9L424.7 359.9L425.2 359.9L425.7 359.9L426.2 359.9L426.7 359.9L427.2 359.9L427.7 359.9L428.2 359.9L428.7 359.9L429.2 360L429.7 360L430.2 360L430.7 360L431.2 360.1L431.7 360.1L432.2 360.1L432.7 360.1L433.2 360.2L433.7 360.2L434.2 360.2L434.7 360.3L435.2 360.3L435.7 360.3L436.2 360.4L436.7 360.4L437.2 360.5L437.7 360.5L438.2 360.5L438.7 360.6L439.2 360.6L439.7 360.6L440.2 360.7L440.7 360.7L441.2 360.8L441.7 360.8L442.2 360.8L442.7 360.9L443.2 360.9L443.7 360.9L444.2 361L444.7 361L445.2 361L445.7 361L446.2 361.1L446.7 361.1L447.2 361.1L447.7 361.1L448.2 361.2L448.7 361.2L449.2 361.2L449.7 361.3L450.2 361.3L450.7 361.3L451.2 361.3L451.7 361.4L452.2 361.4L452.7 361.4L453.2 361.5L453.7 361.5L454.2 361.5L454.7 361.5L455.2 361.6L455.7 361.6L456.2 361.6L456.7 361.6L457.2 361.7L457.7 361.7L458.2 361.7L458.7 361.7L459.2 361.8L459.7 361.8L460.2 361.8L460.7 361.8L461.2 361.9L461.7 361.9L462.2 361.9L462.7 361.9L463.2 361.9L463.7 362L464.2 362L464.7 362L465.2 362L465.7 362L466.2 362L466.7 362.1L467.2 362.1L467.7 362.1L468.2 362.1L468.7 362.1L469.2 362.1L469.7 362.1L470.2 362.2L470.7 362.2L471.2 362.2L471.7 362.2L472.2 362.2L472.7 362.2L473.2 362.2L473.7 362.3L474.2 362.3L474.7 362.3L475.2 362.3L475.7 362.3L476.2 362.3L476.7 362.3L477.2 362.3L477.7 362.4L478.2 362.4L478.7 362.4L479.2 362.4L479.7 362.4L480.2 362.4L480.7 362.4L481.2 362.4L481.7 362.4L482.2 362.4L482.7 362.4L483.2 362.5L483.7 362.5L484.2 362.5L484.7 362.5L485.2 362.5L485.7 362.5L486.2 362.5L486.7 362.5L487.2 362.5L487.3 362.5" fill="none" stroke="#ff00ff" stroke-width="3.0" stroke-linejoin="round" stroke-linecap="round"/>
<path d="M107.2 326L107.7 335.5L108.2 345L108.7 354.8L109.2 364.2L109.7 372.9L110.2 380.7L110.7 386.9L111.2 392.2L111.7 396.4L112.2 399.9L112.7 402.4L113.2 404.3L113.7 405.9L114.2 407.2L114.7 408.2L115.2 409L115.7 409.7L116.2 410.3L116.7 410.6L117.2 411L117.7 411.2L118.2 411.5L118.7 411.6L119.2 411.7L119.7 411.7L120.2 411.6L120.7 411.5L121.2 411.3L121.7 411.1L122.2 410.9L122.7 410.6L123.2 410.1L123.7 409.6L124.2 409L124.7 408.4L125.2 407.8L125.7 407.1L126.2 406.5L126.7 405.7L127.2 405L127.7 404.3L128.2 403.5L128.7 402.7L129.2 401.9L129.7 401.1L130.2 400.2L130.7 399.3L131.2 398.5L131.7 397.6L132.2 396.7L132.7 395.9L133.2 395L133.7 394.2L134.2 393.3L134.7 392.6L135.2 391.8L135.7 391L136.2 390.3L136.7 389.5L137.2 388.8L137.7 388L138.2 387.3L138.7 386.5L139.2 385.8L139.7 385.1L140.2 384.4L140.7 383.7L141.2 383L141.7 382.3L142.2 381.6L142.7 380.9L143.2 380.2L143.7 379.6L144.2 378.9L144.7 378.3L145.2 377.6L145.7 377L146.2 376.4L146.7 375.8L147.2 375.2L147.7 374.6L148.2 374L148.7 373.4L149.2 372.9L149.7 372.3L150.2 371.7L150.7 371.2L151.2 370.6L151.7 370.1L152.2 369.6L152.7 369.1L153.2 368.6L153.7 368.1L154.2 367.6L154.7 367.1L155.2 366.7L155.7 366.3L156.2 365.8L156.7 365.4L157.2 365L157.7 364.6L158.2 364.2L158.7 363.8L159.2 363.4L159.7 363L160.2 362.6L160.7 362.3L161.2 362L161.7 361.6L162.2 361.3L162.7 361L163.2 360.8L163.7 360.5L164.2 360.2L164.7 360L165.2 359.8L165.7 359.5L166.2 359.3L166.7 359.1L167.2 358.9L167.7 358.6L168.2 358.5L168.7 358.3L169.2 358.1L169.7 358L170.2 357.9L170.7 357.8L171.2 357.7L171.7 357.6L172.2 357.5L172.7 357.4L173.2 357.4L173.7 357.3L174.2 357.2L174.7 357.2L175.2 357.1L175.7 357.1L176.2 357L176.7 357L177.2 356.9L177.7 356.9L178.2 356.9L178.7 356.9L179.2 356.9L179.7 356.9L180.2 356.9L180.7 357L181.2 357L181.7 357.1L182.2 357.1L182.7 357.2L183.2 357.2L183.7 357.3L184.2 357.4L184.7 357.5L185.2 357.5L185.7 357.6L186.2 357.7L186.7 357.8L187.2 357.9L187.7 358L188.2 358L188.7 358.1L189.2 358.2L189.7 358.3L190.2 358.4L190.7 358.5L191.2 358.6L191.7 358.8L192.2 358.9L192.7 359L193.2 359.2L193.7 359.3L194.2 359.4L194.7 359.6L195.2 359.7L195.7 359.8L196.2 360L196.7 360.1L197.2 360.3L197.7 360.4L198.2 360.5L198.7 360.7L199.2 360.8L199.7 360.9L200.2 361L200.7 361.2L201.2 361.3L201.7 361.4L202.2 361.5L202.7 361.7L203.2 361.8L203.7 361.9L204.2 362L204.7 362.2L205.2 362.3L205.7 362.4L206.2 362.5L206.7 362.7L207.2 362.8L207.7 362.9L208.2 363L208.7 363.1L209.2 363.3L209.7 363.4L210.2 363.5L210.7 363.6L211.2 363.7L211.7 363.9L212.2 364L212.7 364.1L213.2 364.2L213.7 364.3L214.2 364.4L214.7 364.5L215.2 364.6L215.7 364.8L216.2 364.9L216.7 365L217.2 365.1L217.7 365.2L218.2 365.3L218.7 365.4L219.2 365.5L219.7 365.7L220.2 365.8L220.7 365.9L221.2 366L221.7 366.1L222.2 366.2L222.7 366.3L223.2 366.5L223.7 366.6L224.2 366.7L224.7 366.8L225.2 366.9L225.7 367L226.2 367.1L226.7 367.2L227.2 367.3L227.7 367.4L228.2 367.4L228.7 367.5L229.2 367.6L229.7 367.7L230.2 367.8L230.7 367.8L231.2 367.9L231.7 368L232.2 368L232.7 368.1L233.2 368.1L233.7 368.2L234.2 368.3L234.7 368.3L235.2 368.4L235.7 368.4L236.2 368.5L236.7 368.6L237.2 368.6L237.7 368.7L238.2 368.7L238.7 368.8L239.2 368.8L239.7 368.9L240.2 368.9L240.7 369L241.2 369L241.7 369L242.2 369.1L242.7 369.1L243.2 369.1L243.7 369.1L244.2 369.2L244.7 369.2L245.2 369.2L245.7 369.2L246.2 369.2L246.7 369.2L247.2 369.2L247.7 369.2L248.2 369.2L248.7 369.2L249.2 369.1L249.7 369.1L250.2 369.1L250.7 369.1L251.2 369L251.7 369L252.2 369L252.7 368.9L253.2 368.9L253.7 368.8L254.2 368.8L254.7 368.7L255.2 368.7L255.7 368.7L256.2 368.6L256.7 368.6L257.2 368.5L257.7 368.4L258.2 368.4L258.7 368.3L259.2 368.3L259.7 368.2L260.2 368.2L260.7 368.1L261.2 368.1L261.7 368L262.2 368L262.7 367.9L263.2 367.9L263.7 367.8L264.2 367.7L264.7 367.7L265.2 367.6L265.7 367.5L266.2 367.5L266.7 367.4L267.2 367.3L267.7 367.2L268.2 367.1L268.7 367.1L269.2 367L269.7 366.9L270.2 366.8L270.7 366.7L271.2 366.6L271.7 366.5L272.2 366.4L272.7 366.4L273.2 366.3L273.7 366.2L274.2 366.1L274.7 366L275.2 365.9L275.7 365.8L276.2 365.8L276.7 365.7L277.2 365.6L277.7 365.5L278.2 365.4L278.7 365.4L279.2 365.3L279.7 365.2L280.2 365.2L280.7 365.1L281.2 365.1L281.7 365L282.2 364.9L282.7 364.9L283.2 364.8L283.7 364.8L284.2 364.7L284.7 364.6L285.2 364.6L285.7 364.5L286.2 364.5L286.7 364.4L287.2 364.4L287.7 364.3L288.2 364.3L288.7 364.2L289.2 364.2L289.7 364.1L290.2 364.1L290.7 364L291.2 364L291.7 363.9L292.2 363.9L292.7 363.8L293.2 363.8L293.7 363.7L294.2 363.7L294.7 363.6L295.2 363.6L295.7 363.5L296.2 363.5L296.7 363.4L297.2 363.4L297.7 363.3L298.2 363.3L298.7 363.2L299.2 363.1L299.7 363.1L300.2 363L300.7 363L301.2 362.9L301.7 362.9L302.2 362.9L302.7 362.8L303.2 362.8L303.7 362.8L304.2 362.8L304.7 362.8L305.2 362.8L305.7 362.8L306.2 362.8L306.7 362.8L307.2 362.8L307.7 362.9L308.2 362.9L308.7 362.9L309.2 362.9L309.7 362.9L310.2 362.9L310.7 363L311.2 363L311.7 363L312.2 363L312.7 363.1L313.2 363.1L313.7 363.1L314.2 363.1L314.7 363.2L315.2 363.2L315.7 363.2L316.2 363.3L316.7 363.3L317.2 363.3L317.7 363.4L318.2 363.4L318.7 363.4L319.2 363.5L319.7 363.5L320.2 363.5L320.7 363.5L321.2 363.6L321.7 363.6L322.2 363.6L322.7 363.7L323.2 363.7L323.7 363.8L324.2 363.8L324.7 363.8L325.2 363.9L325.7 363.9L326.2 364L326.7 364L327.2 364.1L327.7 364.1L328.2 364.2L328.7 364.2L329.2 364.3L329.7 364.3L330.2 364.4L330.7 364.4L331.2 364.5L331.7 364.5L332.2 364.6L332.7 364.7L333.2 364.7L333.7 364.8L334.2 364.8L334.7 364.9L335.2 364.9L335.7 365L336.2 365L336.7 365.1L337.2 365.1L337.7 365.2L338.2 365.2L338.7 365.3L339.2 365.3L339.7 365.4L340.2 365.4L340.7 365.5L341.2 365.5L341.7 365.6L342.2 365.6L342.7 365.6L343.2 365.7L343.7 365.7L344.2 365.7L344.7 365.8L345.2 365.8L345.7 365.8L346.2 365.9L346.7 365.9L347.2 365.9L347.7 366L348.2 366L348.7 366L349.2 366.1L349.7 366.1L350.2 366.1L350.7 366.2L351.2 366.2L351.7 366.2L352.2 366.3L352.7 366.3L353.2 366.3L353.7 366.4L354.2 366.4L354.7 366.4L355.2 366.5L355.7 366.5L356.2 366.5L356.7 366.6L357.2 366.6L357.7 366.6L358.2 366.6L358.7 366.7L359.2 366.7L359.7 366.7L360.2 366.8L360.7 366.8L361.2 366.8L361.7 366.8L362.2 366.9L362.7 366.9L363.2 366.9L363.7 366.9L364.2 366.9L364.7 367L365.2 367L365.7 367L366.2 367L366.7 367L367.2 367L367.7 367L368.2 367.1L368.7 367.1L369.2 367.1L369.7 367.1L370.2 367.1L370.7 367.1L371.2 367.1L371.7 367.1L372.2 367.1L372.7 367.1L373.2 367.1L373.7 367.1L374.2 367.1L374.7 367.1L375.2 367.1L375.7 367.1L376.2 367.1L376.7 367.1L377.2 367.1L377.7 367.1L378.2 367.1L378.7 367.1L379.2 367.1L379.7 367.1L380.2 367.1L380.7 367.1L381.2 367.1L381.7 367.1L382.2 367.1L382.7 367.1L383.2 367.1L383.7 367.1L384.2 367.1L384.7 367.1L385.2 367L385.7 367L386.2 367L386.7 367L387.2 367L387.7 367L388.2 367L388.7 367L389.2 367L389.7 367L390.2 367L390.7 367L391.2 367L391.7 367L392.2 367L392.7 367L393.2 366.9L393.7 366.9L394.2 366.9L394.7 366.9L395.2 366.8L395.7 366.8L396.2 366.8L396.7 366.7L397.2 366.7L397.7 366.7L398.2 366.6L398.7 366.6L399.2 366.5L399.7 366.5L400.2 366.4L400.7 366.4L401.2 366.3L401.7 366.3L402.2 366.2L402.7 366.2L403.2 366.1L403.7 366L404.2 366L404.7 365.9L405.2 365.9L405.7 365.8L406.2 365.8L406.7 365.7L407.2 365.7L407.7 365.6L408.2 365.6L408.7 365.5L409.2 365.5L409.7 365.4L410.2 365.4L410.7 365.3L411.2 365.3L411.7 365.2L412.2 365.2L412.7 365.1L413.2 365.1L413.7 365.1L414.2 365L414.7 365L415.2 365L415.7 365L416.2 364.9L416.7 364.9L417.2 364.9L417.7 364.9L418.2 364.8L418.7 364.8L419.2 364.8L419.7 364.8L420.2 364.7L420.7 364.7L421.2 364.7L421.7 364.6L422.2 364.6L422.7 364.6L423.2 364.6L423.7 364.5L424.2 364.5L424.7 364.5L425.2 364.5L425.7 364.5L426.2 364.4L426.7 364.4L427.2 364.4L427.7 364.4L428.2 364.4L428.7 364.3L429.2 364.3L429.7 364.3L430.2 364.3L430.7 364.3L431.2 364.3L431.7 364.3L432.2 364.2L432.7 364.2L433.2 364.2L433.7 364.2L434.2 364.2L434.7 364.2L435.2 364.2L435.7 364.2L436.2 364.2L436.7 364.2L437.2 364.2L437.7 364.2L438.2 364.2L438.7 364.2L439.2 364.2L439.7 364.2L440.2 364.2L440.7 364.3L441.2 364.3L441.7 364.3L442.2 364.3L442.7 364.3L443.2 364.3L443.7 364.4L444.2 364.4L444.7 364.4L445.2 364.4L445.7 364.4L446.2 364.4L446.7 364.5L447.2 364.5L447.7 364.5L448.2 364.5L448.7 364.6L449.2 364.6L449.7 364.6L450.2 364.6L450.7 364.7L451.2 364.7L451.7 364.7L452.2 364.7L452.7 364.8L453.2 364.8L453.7 364.8L454.2 364.8L454.7 364.9L455.2 364.9L455.7 364.9L456.2 364.9L456.7 365L457.2 365L457.7 365L458.2 365L458.7 365L459.2 365.1L459.7 365.1L460.2 365.1L460.7 365.1L461.2 365.1L461.7 365.2L462.2 365.2L462.7 365.2L463.2 365.2L463.7 365.3L464.2 365.3L464.7 365.3L465.2 365.3L465.7 365.3L466.2 365.4L466.7 365.4L467.2 365.4L467.7 365.4L468.2 365.4L468.7 365.5L469.2 365.5L469.7 365.5L470.2 365.5L470.7 365.5L471.2 365.6L471.7 365.6L472.2 365.6L472.7 365.6L473.2 365.7L473.7 365.7L474.2 365.7L474.7 365.7L475.2 365.7L475.7 365.8L476.2 365.8L476.7 365.8L477.2 365.8L477.7 365.9L478.2 365.9L478.7 365.9L479.2 365.9L479.7 365.9L480.2 366L480.7 366L481.2 366L481.7 366L482.2 366.1L482.7 366.1L483.2 366.1L483.7 366.1L484.2 366.2L484.7 366.2L485.2 366.2L485.7 366.2L486.2 366.2L486.7 366.3L487.2 366.3L487.3 366.3" fill="none" stroke="#0000ff" stroke-width="3.0" stroke-linejoin="round" stroke-linecap="round"/>
<path d="M107.1 326L107.6 334.8L108.1 344.1L108.6 354L109.1 364.2L109.6 373.5L110.1 382.1L110.6 388.8L111.1 394.2L111.6 398.7L112.1 402.5L112.6 405.5L113.1 407.8L113.6 409.8L114.1 411.4L114.6 412.7L115.1 413.9L115.6 414.9L116.1 415.7L116.6 416.4L117.1 416.9L117.6 417.3L118.1 417.7L118.6 418.1L119.1 418.4L119.6 418.6L120.1 418.7L120.6 418.8L121.1 418.8L121.6 418.7L122.1 418.6L122.6 418.4L123.1 418.2L123.6 418L124.1 417.8L124.6 417.5L125.1 417.1L125.6 416.6L126.1 416.1L126.6 415.6L127.1 415.1L127.6 414.6L128.1 414.1L128.6 413.5L129.1 413L129.6 412.4L130.1 411.8L130.6 411.3L131.1 410.7L131.6 410.1L132.1 409.5L132.6 408.9L133.1 408.4L133.6 407.8L134.1 407.2L134.6 406.6L135.1 405.9L135.6 405.3L136.1 404.7L136.6 404.1L137.1 403.5L137.6 402.9L138.1 402.3L138.6 401.7L139.1 401.1L139.6 400.5L140.1 399.9L140.6 399.4L141.1 398.8L141.6 398.2L142.1 397.6L142.6 397.1L143.1 396.5L143.6 395.9L144.1 395.3L144.6 394.8L145.1 394.2L145.6 393.6L146.1 393.1L146.6 392.5L147.1 391.9L147.6 391.4L148.1 390.9L148.6 390.3L149.1 389.8L149.6 389.3L150.1 388.8L150.6 388.4L151.1 387.9L151.6 387.5L152.1 387L152.6 386.6L153.1 386.1L153.6 385.7L154.1 385.3L154.6 384.8L155.1 384.4L155.6 384L156.1 383.6L156.6 383.2L157.1 382.8L157.6 382.5L158.1 382.1L158.6 381.7L159.1 381.4L159.6 381L160.1 380.7L160.6 380.4L161.1 380L161.6 379.7L162.1 379.4L162.6 379.1L163.1 378.8L163.6 378.6L164.1 378.3L164.6 378L165.1 377.7L165.6 377.4L166.1 377.2L166.6 376.9L167.1 376.7L167.6 376.4L168.1 376.2L168.6 376L169.1 375.7L169.6 375.5L170.1 375.3L170.6 375.1L171.1 374.9L171.6 374.7L172.1 374.6L172.6 374.4L173.1 374.2L173.6 374.1L174.1 373.9L174.6 373.8L175.1 373.6L175.6 373.5L176.1 373.3L176.6 373.2L177.1 373.1L177.6 372.9L178.1 372.8L178.6 372.7L179.1 372.6L179.6 372.5L180.1 372.4L180.6 372.3L181.1 372.2L181.6 372.1L182.1 372L182.6 371.9L183.1 371.8L183.6 371.7L184.1 371.6L184.6 371.5L185.1 371.4L185.6 371.3L186.1 371.3L186.6 371.2L187.1 371.1L187.6 371L188.1 371L188.6 370.9L189.1 370.8L189.6 370.8L190.1 370.7L190.6 370.7L191.1 370.6L191.6 370.6L192.1 370.6L192.6 370.6L193.1 370.6L193.6 370.5L194.1 370.5L194.6 370.5L195.1 370.5L195.6 370.5L196.1 370.5L196.6 370.5L197.1 370.5L197.6 370.4L198.1 370.4L198.6 370.4L199.1 370.4L199.6 370.4L200.1 370.4L200.6 370.4L201.1 370.4L201.6 370.4L202.1 370.4L202.6 370.4L203.1 370.4L203.6 370.4L204.1 370.5L204.6 370.5L205.1 370.5L205.6 370.6L206.1 370.6L206.6 370.7L207.1 370.7L207.6 370.8L208.1 370.8L208.6 370.9L209.1 371L209.6 371L210.1 371.1L210.6 371.2L211.1 371.2L211.6 371.3L212.1 371.4L212.6 371.5L213.1 371.5L213.6 371.6L214.1 371.7L214.6 371.7L215.1 371.8L215.6 371.9L216.1 372L216.6 372L217.1 372.1L217.6 372.2L218.1 372.3L218.6 372.4L219.1 372.5L219.6 372.6L220.1 372.6L220.6 372.7L221.1 372.8L221.6 372.9L222.1 373L222.6 373.1L223.1 373.2L223.6 373.4L224.1 373.5L224.6 373.6L225.1 373.7L225.6 373.8L226.1 373.9L226.6 374L227.1 374.1L227.6 374.2L228.1 374.3L228.6 374.4L229.1 374.6L229.6 374.7L230.1 374.8L230.6 374.9L231.1 375L231.6 375.1L232.1 375.2L232.6 375.3L233.1 375.4L233.6 375.5L234.1 375.6L234.6 375.7L235.1 375.8L235.6 375.9L236.1 376L236.6 376.1L237.1 376.2L237.6 376.3L238.1 376.4L238.6 376.5L239.1 376.6L239.6 376.8L240.1 376.9L240.6 377L241.1 377.1L241.6 377.2L242.1 377.3L242.6 377.4L243.1 377.5L243.6 377.6L244.1 377.7L244.6 377.8L245.1 377.9L245.6 378L246.1 378.1L246.6 378.2L247.1 378.3L247.6 378.4L248.1 378.5L248.6 378.6L249.1 378.7L249.6 378.8L250.1 378.9L250.6 379L251.1 379.1L251.6 379.1L252.1 379.2L252.6 379.3L253.1 379.4L253.6 379.4L254.1 379.5L254.6 379.6L255.1 379.6L255.6 379.7L256.1 379.7L256.6 379.8L257.1 379.8L257.6 379.9L258.1 379.9L258.6 380L259.1 380.1L259.6 380.1L260.1 380.2L260.6 380.2L261.1 380.3L261.6 380.3L262.1 380.4L262.6 380.4L263.1 380.5L263.6 380.5L264.1 380.6L264.6 380.6L265.1 380.7L265.6 380.7L266.1 380.8L266.6 380.8L267.1 380.8L267.6 380.9L268.1 380.9L268.6 380.9L269.1 381L269.6 381L270.1 381L270.6 381L271.1 381.1L271.6 381.1L272.1 381.1L272.6 381.1L273.1 381.1L273.6 381.1L274.1 381.1L274.6 381.1L275.1 381.1L275.6 381.1L276.1 381.1L276.6 381.1L277.1 381.1L277.6 381L278.1 381L278.6 381L279.1 381L279.6 381L280.1 380.9L280.6 380.9L281.1 380.9L281.6 380.9L282.1 380.8L282.6 380.8L283.1 380.8L283.6 380.8L284.1 380.7L284.6 380.7L285.1 380.7L285.6 380.6L286.1 380.6L286.6 380.5L287.1 380.5L287.6 380.5L288.1 380.4L288.6 380.4L289.1 380.4L289.6 380.3L290.1 380.3L290.6 380.2L291.1 380.2L291.6 380.2L292.1 380.1L292.6 380.1L293.1 380L293.6 380L294.1 380L294.6 379.9L295.1 379.9L295.6 379.9L296.1 379.8L296.6 379.8L297.1 379.7L297.6 379.7L298.1 379.6L298.6 379.6L299.1 379.5L299.6 379.5L300.1 379.4L300.6 379.4L301.1 379.3L301.6 379.3L302.1 379.2L302.6 379.1L303.1 379.1L303.6 379L304.1 379L304.6 378.9L305.1 378.8L305.6 378.8L306.1 378.7L306.6 378.7L307.1 378.6L307.6 378.5L308.1 378.5L308.6 378.4L309.1 378.3L309.6 378.3L310.1 378.2L310.6 378.2L311.1 378.1L311.6 378L312.1 378L312.6 377.9L313.1 377.9L313.6 377.8L314.1 377.7L314.6 377.7L315.1 377.6L315.6 377.6L316.1 377.5L316.6 377.5L317.1 377.4L317.6 377.4L318.1 377.3L318.6 377.3L319.1 377.3L319.6 377.2L320.1 377.2L320.6 377.2L321.1 377.1L321.6 377.1L322.1 377.1L322.6 377L323.1 377L323.6 376.9L324.1 376.9L324.6 376.9L325.1 376.8L325.6 376.8L326.1 376.8L326.6 376.7L327.1 376.7L327.6 376.7L328.1 376.6L328.6 376.6L329.1 376.6L329.6 376.5L330.1 376.5L330.6 376.5L331.1 376.4L331.6 376.4L332.1 376.4L332.6 376.3L333.1 376.3L333.6 376.3L334.1 376.2L334.6 376.2L335.1 376.2L335.6 376.1L336.1 376.1L336.6 376.1L337.1 376.1L337.6 376L338.1 376L338.6 376L339.1 376L339.6 375.9L340.1 375.9L340.6 375.9L341.1 375.9L341.6 375.9L342.1 375.8L342.6 375.8L343.1 375.8L343.6 375.8L344.1 375.8L344.6 375.8L345.1 375.7L345.6 375.7L346.1 375.7L346.6 375.7L347.1 375.7L347.6 375.7L348.1 375.7L348.6 375.7L349.1 375.7L349.6 375.7L350.1 375.7L350.6 375.7L351.1 375.7L351.6 375.7L352.1 375.7L352.6 375.7L353.1 375.8L353.6 375.8L354.1 375.8L354.6 375.8L355.1 375.8L355.6 375.9L356.1 375.9L356.6 375.9L357.1 375.9L357.6 376L358.1 376L358.6 376L359.1 376L359.6 376.1L360.1 376.1L360.6 376.1L361.1 376.2L361.6 376.2L362.1 376.2L362.6 376.3L363.1 376.3L363.6 376.4L364.1 376.4L364.6 376.4L365.1 376.5L365.6 376.5L366.1 376.5L366.6 376.6L367.1 376.6L367.6 376.6L368.1 376.7L368.6 376.7L369.1 376.7L369.6 376.8L370.1 376.8L370.6 376.8L371.1 376.9L371.6 376.9L372.1 376.9L372.6 377L373.1 377L373.6 377.1L374.1 377.1L374.6 377.1L375.1 377.2L375.6 377.2L376.1 377.3L376.6 377.3L377.1 377.3L377.6 377.4L378.1 377.4L378.6 377.5L379.1 377.5L379.6 377.6L380.1 377.6L380.6 377.6L381.1 377.7L381.6 377.7L382.1 377.8L382.6 377.8L383.1 377.9L383.6 377.9L384.1 378L384.6 378L385.1 378L385.6 378.1L386.1 378.1L386.6 378.2L387.1 378.2L387.6 378.2L388.1 378.3L388.6 378.3L389.1 378.3L389.6 378.4L390.1 378.4L390.6 378.4L391.1 378.5L391.6 378.5L392.1 378.5L392.6 378.6L393.1 378.6L393.6 378.6L394.1 378.7L394.6 378.7L395.1 378.7L395.6 378.8L396.1 378.8L396.6 378.8L397.1 378.9L397.6 378.9L398.1 378.9L398.6 379L399.1 379L399.6 379L400.1 379.1L400.6 379.1L401.1 379.1L401.6 379.1L402.1 379.2L402.6 379.2L403.1 379.2L403.6 379.2L404.1 379.3L404.6 379.3L405.1 379.3L405.6 379.3L406.1 379.4L406.6 379.4L407.1 379.4L407.6 379.4L408.1 379.4L408.6 379.5L409.1 379.5L409.6 379.5L410.1 379.5L410.6 379.5L411.1 379.5L411.6 379.5L412.1 379.6L412.6 379.6L413.1 379.6L413.6 379.6L414.1 379.6L414.6 379.6L415.1 379.6L415.6 379.6L416.1 379.6L416.6 379.7L417.1 379.7L417.6 379.7L418.1 379.7L418.6 379.7L419.1 379.7L419.6 379.7L420.1 379.7L420.6 379.7L421.1 379.7L421.6 379.8L422.1 379.8L422.6 379.8L423.1 379.8L423.6 379.8L424.1 379.8L424.6 379.8L425.1 379.8L425.6 379.8L426.1 379.8L426.6 379.8L427.1 379.8L427.6 379.8L428.1 379.8L428.6 379.8L429.1 379.8L429.6 379.8L430.1 379.8L430.6 379.8L431.1 379.8L431.6 379.8L432.1 379.8L432.6 379.8L433.1 379.7L433.6 379.7L434.1 379.7L434.6 379.7L435.1 379.7L435.6 379.7L436.1 379.7L436.6 379.7L437.1 379.7L437.6 379.6L438.1 379.6L438.6 379.6L439.1 379.6L439.6 379.6L440.1 379.6L440.6 379.5L441.1 379.5L441.6 379.5L442.1 379.5L442.6 379.5L443.1 379.5L443.6 379.4L444.1 379.4L444.6 379.4L445.1 379.4L445.6 379.4L446.1 379.3L446.6 379.3L447.1 379.3L447.6 379.3L448.1 379.3L448.6 379.2L449.1 379.2L449.6 379.2L450.1 379.2L450.6 379.2L451.1 379.1L451.6 379.1L452.1 379.1L452.6 379.1L453.1 379.1L453.6 379L454.1 379L454.6 379L455.1 379L455.6 379L456.1 379L456.6 378.9L457.1 378.9L457.6 378.9L458.1 378.9L458.6 378.9L459.1 378.9L459.6 378.8L460.1 378.8L460.6 378.8L461.1 378.8L461.6 378.8L462.1 378.8L462.6 378.7L463.1 378.7L463.6 378.7L464.1 378.7L464.6 378.7L465.1 378.7L465.6 378.6L466.1 378.6L466.6 378.6L467.1 378.6L467.6 378.6L468.1 378.5L468.6 378.5L469.1 378.5L469.6 378.5L470.1 378.5L470.6 378.5L471.1 378.4L471.6 378.4L472.1 378.4L472.6 378.4L473.1 378.4L473.6 378.3L474.1 378.3L474.6 378.3L475.1 378.3L475.6 378.3L476.1 378.2L476.6 378.2L477.1 378.2L477.6 378.2L478.1 378.2L478.6 378.1L479.1 378.1L479.6 378.1L480.1 378.1L480.6 378.1L481.1 378.1L481.6 378L482.1 378L482.6 378L483.1 378L483.6 378L484.1 377.9L484.6 377.9L485.1 377.9L485.6 377.9L486.1 377.8L486.6 377.8L487.1 377.8L487.3 377.8" fill="none" stroke="#ff0000" stroke-width="3.0" stroke-linejoin="round" stroke-linecap="round"/>
<path d="M106.8 326L107.3 343.9L107.8 360L108.3 375.1L108.8 388L109.3 397.1L109.8 404.4L110.3 410L110.8 414.2L111.3 417.6L111.8 420.6L112.3 423.6L112.8 426.7L113.3 429.7L113.8 432.4L114.3 434.8L114.8 436.9L115.3 438.8L115.8 440.6L116.3 442.2L116.8 443.6L117.3 444.8L117.8 445.8L118.3 446.7L118.8 447.6L119.3 448.3L119.8 449.1L120.3 449.7L120.8 450.3L121.3 450.8L121.8 451.3L122.3 451.8L122.8 452.2L123.3 452.6L123.8 453L124.3 453.3L124.8 453.6L125.3 453.9L125.8 454.2L126.3 454.4L126.8 454.5L127.3 454.7L127.8 454.8L128.3 454.9L128.8 455L129.3 455.1L129.8 455.2L130.3 455.3L130.8 455.4L131.3 455.4L131.8 455.5L132.3 455.5L132.8 455.6L133.3 455.6L133.8 455.6L134.3 455.6L134.8 455.6L135.3 455.6L135.8 455.5L136.3 455.5L136.8 455.4L137.3 455.4L137.8 455.3L138.3 455.2L138.8 455.1L139.3 455.1L139.8 455L140.3 454.9L140.8 454.8L141.3 454.7L141.8 454.6L142.3 454.5L142.8 454.4L143.3 454.3L143.8 454.2L144.3 454.1L144.8 454L145.3 453.9L145.8 453.9L146.3 453.8L146.8 453.7L147.3 453.6L147.8 453.4L148.3 453.3L148.8 453.2L149.3 453.1L149.8 453L150.3 452.9L150.8 452.8L151.3 452.6L151.8 452.5L152.3 452.4L152.8 452.3L153.3 452.1L153.8 452L154.3 451.9L154.8 451.8L155.3 451.6L155.8 451.5L156.3 451.4L156.8 451.3L157.3 451.1L157.8 451L158.3 450.9L158.8 450.8L159.3 450.7L159.8 450.5L160.3 450.4L160.8 450.3L161.3 450.2L161.8 450.1L162.3 450L162.8 449.9L163.3 449.8L163.8 449.7L164.3 449.5L164.8 449.4L165.3 449.3L165.8 449.2L166.3 449.1L166.8 449L167.3 448.9L167.8 448.8L168.3 448.7L168.8 448.6L169.3 448.5L169.8 448.4L170.3 448.2L170.8 448.1L171.3 448L171.8 447.9L172.3 447.8L172.8 447.7L173.3 447.6L173.8 447.5L174.3 447.4L174.8 447.3L175.3 447.2L175.8 447.1L176.3 447L176.8 446.9L177.3 446.8L177.8 446.7L178.3 446.6L178.8 446.5L179.3 446.4L179.8 446.3L180.3 446.2L180.8 446.2L181.3 446.1L181.8 446L182.3 445.9L182.8 445.8L183.3 445.7L183.8 445.6L184.3 445.5L184.8 445.4L185.3 445.3L185.8 445.2L186.3 445.1L186.8 445L187.3 445L187.8 444.9L188.3 444.8L188.8 444.7L189.3 444.6L189.8 444.5L190.3 444.4L190.8 444.3L191.3 444.3L191.8 444.2L192.3 444.1L192.8 444L193.3 443.9L193.8 443.9L194.3 443.8L194.8 443.7L195.3 443.6L195.8 443.6L196.3 443.5L196.8 443.4L197.3 443.3L197.8 443.3L198.3 443.2L198.8 443.1L199.3 443.1L199.8 443L200.3 443L200.8 442.9L201.3 442.9L201.8 442.8L202.3 442.7L202.8 442.7L203.3 442.6L203.8 442.6L204.3 442.5L204.8 442.5L205.3 442.4L205.8 442.4L206.3 442.3L206.8 442.3L207.3 442.2L207.8 442.2L208.3 442.1L208.8 442.1L209.3 442L209.8 442L210.3 441.9L210.8 441.9L211.3 441.8L211.8 441.8L212.3 441.7L212.8 441.7L213.3 441.6L213.8 441.6L214.3 441.5L214.8 441.5L215.3 441.4L215.8 441.4L216.3 441.4L216.8 441.3L217.3 441.3L217.8 441.2L218.3 441.2L218.8 441.1L219.3 441.1L219.8 441.1L220.3 441L220.8 441L221.3 440.9L221.8 440.9L222.3 440.9L222.8 440.8L223.3 440.8L223.8 440.7L224.3 440.7L224.8 440.7L225.3 440.6L225.8 440.6L226.3 440.6L226.8 440.5L227.3 440.5L227.8 440.4L228.3 440.4L228.8 440.4L229.3 440.3L229.8 440.3L230.3 440.3L230.8 440.2L231.3 440.2L231.8 440.2L232.3 440.1L232.8 440.1L233.3 440.1L233.8 440L234.3 440L234.8 440L235.3 439.9L235.8 439.9L236.3 439.9L236.8 439.8L237.3 439.8L237.8 439.8L238.3 439.8L238.8 439.7L239.3 439.7L239.8 439.7L240.3 439.6L240.8 439.6L241.3 439.6L241.8 439.6L242.3 439.5L242.8 439.5L243.3 439.5L243.8 439.4L244.3 439.4L244.8 439.4L245.3 439.4L245.8 439.3L246.3 439.3L246.8 439.3L247.3 439.2L247.8 439.2L248.3 439.2L248.8 439.2L249.3 439.1L249.8 439.1L250.3 439.1L250.8 439.1L251.3 439L251.8 439L252.3 439L252.8 439L253.3 438.9L253.8 438.9L254.3 438.9L254.8 438.9L255.3 438.8L255.8 438.8L256.3 438.8L256.8 438.8L257.3 438.8L257.8 438.7L258.3 438.7L258.8 438.7L259.3 438.7L259.8 438.6L260.3 438.6L260.8 438.6L261.3 438.6L261.8 438.6L262.3 438.5L262.8 438.5L263.3 438.5L263.8 438.5L264.3 438.4L264.8 438.4L265.3 438.4L265.8 438.4L266.3 438.4L266.8 438.3L267.3 438.3L267.8 438.3L268.3 438.3L268.8 438.2L269.3 438.2L269.8 438.2L270.3 438.2L270.8 438.2L271.3 438.1L271.8 438.1L272.3 438.1L272.8 438.1L273.3 438.1L273.8 438L274.3 438L274.8 438L275.3 438L275.8 438L276.3 437.9L276.8 437.9L277.3 437.9L277.8 437.9L278.3 437.9L278.8 437.8L279.3 437.8L279.8 437.8L280.3 437.8L280.8 437.8L281.3 437.7L281.8 437.7L282.3 437.7L282.8 437.7L283.3 437.7L283.8 437.6L284.3 437.6L284.8 437.6L285.3 437.6L285.8 437.6L286.3 437.6L286.8 437.5L287.3 437.5L287.8 437.5L288.3 437.5L288.8 437.5L289.3 437.5L289.8 437.4L290.3 437.4L290.8 437.4L291.3 437.4L291.8 437.4L292.3 437.4L292.8 437.4L293.3 437.3L293.8 437.3L294.3 437.3L294.8 437.3L295.3 437.3L295.8 437.3L296.3 437.3L296.8 437.3L297.3 437.2L297.8 437.2L298.3 437.2L298.8 437.2L299.3 437.2L299.8 437.2L300.3 437.2L300.8 437.2L301.3 437.2L301.8 437.2L302.3 437.1L302.8 437.1L303.3 437.1L303.8 437.1L304.3 437.1L304.8 437.1L305.3 437.1L305.8 437.1L306.3 437.1L306.8 437.1L307.3 437L307.8 437L308.3 437L308.8 437L309.3 437L309.8 437L310.3 437L310.8 437L311.3 437L311.8 437L312.3 437L312.8 436.9L313.3 436.9L313.8 436.9L314.3 436.9L314.8 436.9L315.3 436.9L315.8 436.9L316.3 436.9L316.8 436.9L317.3 436.9L317.8 436.9L318.3 436.9L318.8 436.9L319.3 436.8L319.8 436.8L320.3 436.8L320.8 436.8L321.3 436.8L321.8 436.8L322.3 436.8L322.8 436.8L323.3 436.8L323.8 436.8L324.3 436.8L324.8 436.8L325.3 436.8L325.8 436.8L326.3 436.7L326.8 436.7L327.3 436.7L327.8 436.7L328.3 436.7L328.8 436.7L329.3 436.7L329.8 436.7L330.3 436.7L330.8 436.7L331.3 436.7L331.8 436.7L332.3 436.7L332.8 436.7L333.3 436.7L333.8 436.7L334.3 436.7L334.8 436.6L335.3 436.6L335.8 436.6L336.3 436.6L336.8 436.6L337.3 436.6L337.8 436.6L338.3 436.6L338.8 436.6L339.3 436.6L339.8 436.6L340.3 436.6L340.8 436.6L341.3 436.6L341.8 436.6L342.3 436.6L342.8 436.6L343.3 436.6L343.8 436.6L344.3 436.6L344.8 436.6L345.3 436.6L345.8 436.5L346.3 436.5L346.8 436.5L347.3 436.5L347.8 436.5L348.3 436.5L348.8 436.5L349.3 436.5L349.8 436.5L350.3 436.5L350.8 436.5L351.3 436.5L351.8 436.5L352.3 436.5L352.8 436.5L353.3 436.5L353.8 436.5L354.3 436.5L354.8 436.5L355.3 436.5L355.8 436.5L356.3 436.5L356.8 436.5L357.3 436.5L357.8 436.4L358.3 436.4L358.8 436.4L359.3 436.4L359.8 436.4L360.3 436.4L360.8 436.4L361.3 436.4L361.8 436.4L362.3 436.4L362.8 436.4L363.3 436.4L363.8 436.4L364.3 436.4L364.8 436.4L365.3 436.4L365.8 436.4L366.3 436.4L366.8 436.4L367.3 436.4L367.8 436.4L368.3 436.4L368.8 436.4L369.3 436.4L369.8 436.4L370.3 436.4L370.8 436.4L371.3 436.4L371.8 436.4L372.3 436.4L372.8 436.3L373.3 436.3L373.8 436.3L374.3 436.3L374.8 436.3L375.3 436.3L375.8 436.3L376.3 436.3L376.8 436.3L377.3 436.3L377.8 436.3L378.3 436.3L378.8 436.3L379.3 436.3L379.8 436.3L380.3 436.3L380.8 436.3L381.3 436.3L381.8 436.3L382.3 436.3L382.8 436.3L383.3 436.3L383.8 436.3L384.3 436.3L384.8 436.3L385.3 436.3L385.8 436.3L386.3 436.3L386.8 436.3L387.3 436.3L387.8 436.3L388.3 436.3L388.8 436.3L389.3 436.3L389.8 436.3L390.3 436.3L390.8 436.3L391.3 436.3L391.8 436.3L392.3 436.3L392.8 436.3L393.3 436.3L393.8 436.3L394.3 436.3L394.8 436.3L395.3 436.3L395.8 436.3L396.3 436.3L396.8 436.3L397.3 436.3L397.8 436.3L398.3 436.3L398.8 436.3L399.3 436.3L399.8 436.3L400.3 436.3L400.8 436.3L401.3 436.3L401.8 436.3L402.3 436.3L402.8 436.3L403.3 436.3L403.8 436.3L404.3 436.3L404.8 436.3L405.3 436.3L405.8 436.3L406.3 436.3L406.8 436.3L407.3 436.3L407.8 436.3L408.3 436.3L408.8 436.3L409.3 436.3L409.8 436.3L410.3 436.3L410.8 436.3L411.3 436.3L411.8 436.3L412.3 436.3L412.8 436.3L413.3 436.3L413.8 436.3L414.3 436.3L414.8 436.3L415.3 436.3L415.8 436.3L416.3 436.3L416.8 436.3L417.3 436.3L417.8 436.3L418.3 436.3L418.8 436.3L419.3 436.3L419.8 436.3L420.3 436.3L420.8 436.3L421.3 436.3L421.8 436.3L422.3 436.3L422.8 436.3L423.3 436.3L423.8 436.3L424.3 436.3L424.8 436.3L425.3 436.3L425.8 436.3L426.3 436.3L426.8 436.3L427.3 436.3L427.8 436.3L428.3 436.3L428.8 436.3L429.3 436.3L429.8 436.3L430.3 436.3L430.8 436.3L431.3 436.3L431.8 436.3L432.3 436.3L432.8 436.3L433.3 436.3L433.8 436.3L434.3 436.3L434.8 436.3L435.3 436.3L435.8 436.3L436.3 436.3L436.8 436.3L437.3 436.3L437.8 436.3L438.3 436.3L438.8 436.3L439.3 436.3L439.8 436.3L440.3 436.3L440.8 436.3L441.3 436.3L441.8 436.3L442.3 436.3L442.8 436.3L443.3 436.3L443.8 436.3L444.3 436.3L444.8 436.3L445.3 436.3L445.8 436.3L446.3 436.3L446.8 436.3L447.3 436.3L447.8 436.3L448.3 436.3L448.8 436.3L449.3 436.3L449.8 436.3L450.3 436.3L450.8 436.3L451.3 436.3L451.8 436.3L452.3 436.3L452.8 436.3L453.3 436.3L453.8 436.3L454.3 436.3L454.8 436.3L455.3 436.3L455.8 436.3L456.3 436.3L456.8 436.3L457.3 436.3L457.8 436.3L458.3 436.3L458.8 436.3L459.3 436.3L459.8 436.3L460.3 436.3L460.8 436.3L461.3 436.3L461.8 436.3L462.3 436.3L462.8 436.3L463.3 436.3L463.8 436.3L464.3 436.3L464.8 436.3L465.3 436.3L465.8 436.3L466.3 436.3L466.8 436.3L467.3 436.3L467.8 436.3L468.3 436.3L468.8 436.3L469.3 436.3L469.8 436.3L470.3 436.3L470.8 436.4L471.3 436.4L471.8 436.4L472.3 436.4L472.8 436.4L473.3 436.4L473.8 436.4L474.3 436.4L474.8 436.4L475.3 436.4L475.8 436.4L476.3 436.4L476.8 436.4L477.3 436.4L477.8 436.4L478.3 436.4L478.8 436.4L479.3 436.4L479.8 436.4L480.3 436.4L480.8 436.4L481.3 436.4L481.8 436.4L482.3 436.4L482.8 436.4L483.3 436.4L483.8 436.4L484.3 436.4L484.8 436.4L485.3 436.4L485.8 436.4L486.3 436.4L486.8 436.4L487.3 436.4" fill="none" stroke="#008000" stroke-width="3.0" stroke-linejoin="round" stroke-linecap="round"/>
<path d="M104.6 326L105.1 370L105.6 385L106.1 393.7L106.6 400L107.1 405.5L107.6 410.2L108.1 414.5L108.6 418.2L109.1 422L109.6 426.3L110.1 430.8L110.6 435.3L111.1 439.5L111.6 443.7L112.1 447.6L112.6 450.9L113.1 454L113.6 457L114.1 459.8L114.6 462.4L115.1 464.9L115.6 467.2L116.1 469.4L116.6 471.5L117.1 473.6L117.6 475.6L118.1 477.5L118.6 479.4L119.1 481.2L119.6 482.9L120.1 484.6L120.6 486.2L121.1 487.6L121.6 489L122.1 490.3L122.6 491.4L123.1 492.5L123.6 493.5L124.1 494.5L124.6 495.5L125.1 496.4L125.6 497.3L126.1 498.1L126.6 498.9L127.1 499.7L127.6 500.5L128.1 501.2L128.6 501.9L129.1 502.5L129.6 503.2L130.1 503.8L130.6 504.4L131.1 505L131.6 505.5L132.1 506.1L132.6 506.6L133.1 507.2L133.6 507.7L134.1 508.2L134.6 508.7L135.1 509.2L135.6 509.6L136.1 510.1L136.6 510.5L137.1 510.9L137.6 511.4L138.1 511.8L138.6 512.1L139.1 512.5L139.6 512.9L140.1 513.2L140.6 513.5L141.1 513.9L141.6 514.2L142.1 514.5L142.6 514.8L143.1 515.1L143.6 515.4L144.1 515.6L144.6 515.9L145.1 516.2L145.6 516.5L146.1 516.7L146.6 517L147.1 517.2L147.6 517.5L148.1 517.7L148.6 518L149.1 518.2L149.6 518.5L150.1 518.7L150.6 518.9L151.1 519.2L151.6 519.4L152.1 519.6L152.6 519.8L153.1 520L153.6 520.2L154.1 520.4L154.6 520.6L155.1 520.8L155.6 521L156.1 521.2L156.6 521.4L157.1 521.5L157.6 521.7L158.1 521.9L158.6 522.1L159.1 522.2L159.6 522.4L160.1 522.6L160.6 522.7L161.1 522.9L161.6 523L162.1 523.2L162.6 523.3L163.1 523.5L163.6 523.6L164.1 523.8L164.6 523.9L165.1 524L165.6 524.2L166.1 524.3L166.6 524.4L167.1 524.5L167.6 524.7L168.1 524.8L168.6 524.9L169.1 525L169.6 525.2L170.1 525.3L170.6 525.4L171.1 525.5L171.6 525.6L172.1 525.7L172.6 525.8L173.1 525.9L173.6 526L174.1 526.1L174.6 526.3L175.1 526.4L175.6 526.5L176.1 526.6L176.6 526.7L177.1 526.8L177.6 526.9L178.1 527L178.6 527.1L179.1 527.1L179.6 527.2L180.1 527.3L180.6 527.4L181.1 527.5L181.6 527.6L182.1 527.7L182.6 527.8L183.1 527.9L183.6 528L184.1 528.1L184.6 528.2L185.1 528.3L185.6 528.4L186.1 528.5L186.6 528.5L187.1 528.6L187.6 528.7L188.1 528.8L188.6 528.9L189.1 529L189.6 529.1L190.1 529.1L190.6 529.2L191.1 529.3L191.6 529.4L192.1 529.5L192.6 529.5L193.1 529.6L193.6 529.7L194.1 529.8L194.6 529.9L195.1 529.9L195.6 530L196.1 530.1L196.6 530.1L197.1 530.2L197.6 530.3L198.1 530.4L198.6 530.4L199.1 530.5L199.6 530.5L200.1 530.6L200.6 530.7L201.1 530.7L201.6 530.8L202.1 530.9L202.6 530.9L203.1 531L203.6 531L204.1 531.1L204.6 531.2L205.1 531.2L205.6 531.3L206.1 531.4L206.6 531.4L207.1 531.5L207.6 531.5L208.1 531.6L208.6 531.6L209.1 531.7L209.6 531.8L210.1 531.8L210.6 531.9L211.1 531.9L211.6 532L212.1 532L212.6 532.1L213.1 532.2L213.6 532.2L214.1 532.3L214.6 532.3L215.1 532.4L215.6 532.4L216.1 532.5L216.6 532.5L217.1 532.6L217.6 532.6L218.1 532.7L218.6 532.7L219.1 532.8L219.6 532.8L220.1 532.9L220.6 532.9L221.1 533L221.6 533L222.1 533.1L222.6 533.1L223.1 533.2L223.6 533.2L224.1 533.3L224.6 533.3L225.1 533.4L225.6 533.4L226.1 533.4L226.6 533.5L227.1 533.5L227.6 533.6L228.1 533.6L228.6 533.6L229.1 533.7L229.6 533.7L230.1 533.8L230.6 533.8L231.1 533.8L231.6 533.9L232.1 533.9L232.6 534L233.1 534L233.6 534L234.1 534.1L234.6 534.1L235.1 534.1L235.6 534.2L236.1 534.2L236.6 534.2L237.1 534.3L237.6 534.3L238.1 534.3L238.6 534.4L239.1 534.4L239.6 534.4L240.1 534.5L240.6 534.5L241.1 534.5L241.6 534.6L242.1 534.6L242.6 534.6L243.1 534.6L243.6 534.7L244.1 534.7L244.6 534.7L245.1 534.8L245.6 534.8L246.1 534.8L246.6 534.9L247.1 534.9L247.6 534.9L248.1 534.9L248.6 535L249.1 535L249.6 535L250.1 535.1L250.6 535.1L251.1 535.1L251.6 535.1L252.1 535.2L252.6 535.2L253.1 535.2L253.6 535.2L254.1 535.3L254.6 535.3L255.1 535.3L255.6 535.3L256.1 535.4L256.6 535.4L257.1 535.4L257.6 535.4L258.1 535.5L258.6 535.5L259.1 535.5L259.6 535.5L260.1 535.6L260.6 535.6L261.1 535.6L261.6 535.6L262.1 535.7L262.6 535.7L263.1 535.7L263.6 535.7L264.1 535.8L264.6 535.8L265.1 535.8L265.6 535.8L266.1 535.9L266.6 535.9L267.1 535.9L267.6 535.9L268.1 535.9L268.6 536L269.1 536L269.6 536L270.1 536L270.6 536L271.1 536.1L271.6 536.1L272.1 536.1L272.6 536.1L273.1 536.2L273.6 536.2L274.1 536.2L274.6 536.2L275.1 536.2L275.6 536.3L276.1 536.3L276.6 536.3L277.1 536.3L277.6 536.3L278.1 536.4L278.6 536.4L279.1 536.4L279.6 536.4L280.1 536.4L280.6 536.5L281.1 536.5L281.6 536.5L282.1 536.5L282.6 536.5L283.1 536.6L283.6 536.6L284.1 536.6L284.6 536.6L285.1 536.6L285.6 536.7L286.1 536.7L286.6 536.7L287.1 536.7L287.6 536.7L288.1 536.7L288.6 536.8L289.1 536.8L289.6 536.8L290.1 536.8L290.6 536.8L291.1 536.9L291.6 536.9L292.1 536.9L292.6 536.9L293.1 536.9L293.6 536.9L294.1 537L294.6 537L295.1 537L295.6 537L296.1 537L296.6 537.1L297.1 537.1L297.6 537.1L298.1 537.1L298.6 537.1L299.1 537.1L299.6 537.2L300.1 537.2L300.6 537.2L301.1 537.2L301.6 537.2L302.1 537.3L302.6 537.3L303.1 537.3L303.6 537.3L304.1 537.3L304.6 537.3L305.1 537.4L305.6 537.4L306.1 537.4L306.6 537.4L307.1 537.4L307.6 537.4L308.1 537.5L308.6 537.5L309.1 537.5L309.6 537.5L310.1 537.5L310.6 537.5L311.1 537.6L311.6 537.6L312.1 537.6L312.6 537.6L313.1 537.6L313.6 537.6L314.1 537.6L314.6 537.7L315.1 537.7L315.6 537.7L316.1 537.7L316.6 537.7L317.1 537.7L317.6 537.8L318.1 537.8L318.6 537.8L319.1 537.8L319.6 537.8L320.1 537.8L320.6 537.9L321.1 537.9L321.6 537.9L322.1 537.9L322.6 537.9L323.1 537.9L323.6 537.9L324.1 538L324.6 538L325.1 538L325.6 538L326.1 538L326.6 538L327.1 538L327.6 538.1L328.1 538.1L328.6 538.1L329.1 538.1L329.6 538.1L330.1 538.1L330.6 538.1L331.1 538.2L331.6 538.2L332.1 538.2L332.6 538.2L333.1 538.2L333.6 538.2L334.1 538.2L334.6 538.3L335.1 538.3L335.6 538.3L336.1 538.3L336.6 538.3L337.1 538.3L337.6 538.3L338.1 538.4L338.6 538.4L339.1 538.4L339.6 538.4L340.1 538.4L340.6 538.4L341.1 538.4L341.6 538.4L342.1 538.5L342.6 538.5L343.1 538.5L343.6 538.5L344.1 538.5L344.6 538.5L345.1 538.5L345.6 538.5L346.1 538.6L346.6 538.6L347.1 538.6L347.6 538.6L348.1 538.6L348.6 538.6L349.1 538.6L349.6 538.6L350.1 538.7L350.6 538.7L351.1 538.7L351.6 538.7L352.1 538.7L352.6 538.7L353.1 538.7L353.6 538.7L354.1 538.7L354.6 538.8L355.1 538.8L355.6 538.8L356.1 538.8L356.6 538.8L357.1 538.8L357.6 538.8L358.1 538.8L358.6 538.8L359.1 538.9L359.6 538.9L360.1 538.9L360.6 538.9L361.1 538.9L361.6 538.9L362.1 538.9L362.6 538.9L363.1 538.9L363.6 539L364.1 539L364.6 539L365.1 539L365.6 539L366.1 539L366.6 539L367.1 539L367.6 539L368.1 539L368.6 539.1L369.1 539.1L369.6 539.1L370.1 539.1L370.6 539.1L371.1 539.1L371.6 539.1L372.1 539.1L372.6 539.1L373.1 539.1L373.6 539.2L374.1 539.2L374.6 539.2L375.1 539.2L375.6 539.2L376.1 539.2L376.6 539.2L377.1 539.2L377.6 539.2L378.1 539.2L378.6 539.2L379.1 539.3L379.6 539.3L380.1 539.3L380.6 539.3L381.1 539.3L381.6 539.3L382.1 539.3L382.6 539.3L383.1 539.3L383.6 539.3L384.1 539.3L384.6 539.3L385.1 539.4L385.6 539.4L386.1 539.4L386.6 539.4L387.1 539.4L387.6 539.4L388.1 539.4L388.6 539.4L389.1 539.4L389.6 539.4L390.1 539.4L390.6 539.4L391.1 539.4L391.6 539.5L392.1 539.5L392.6 539.5L393.1 539.5L393.6 539.5L394.1 539.5L394.6 539.5L395.1 539.5L395.6 539.5L396.1 539.5L396.6 539.5L397.1 539.5L397.6 539.5L398.1 539.5L398.6 539.5L399.1 539.6L399.6 539.6L400.1 539.6L400.6 539.6L401.1 539.6L401.6 539.6L402.1 539.6L402.6 539.6L403.1 539.6L403.6 539.6L404.1 539.6L404.6 539.6L405.1 539.6L405.6 539.6L406.1 539.6L406.6 539.7L407.1 539.7L407.6 539.7L408.1 539.7L408.6 539.7L409.1 539.7L409.6 539.7L410.1 539.7L410.6 539.7L411.1 539.7L411.6 539.7L412.1 539.7L412.6 539.7L413.1 539.7L413.6 539.7L414.1 539.7L414.6 539.7L415.1 539.8L415.6 539.8L416.1 539.8L416.6 539.8L417.1 539.8L417.6 539.8L418.1 539.8L418.6 539.8L419.1 539.8L419.6 539.8L420.1 539.8L420.6 539.8L421.1 539.8L421.6 539.8L422.1 539.8L422.6 539.8L423.1 539.8L423.6 539.8L424.1 539.9L424.6 539.9L425.1 539.9L425.6 539.9L426.1 539.9L426.6 539.9L427.1 539.9L427.6 539.9L428.1 539.9L428.6 539.9L429.1 539.9L429.6 539.9L430.1 539.9L430.6 539.9L431.1 539.9L431.6 539.9L432.1 539.9L432.6 539.9L433.1 539.9L433.6 539.9L434.1 539.9L434.6 540L435.1 540L435.6 540L436.1 540L436.6 540L437.1 540L437.6 540L438.1 540L438.6 540L439.1 540L439.6 540L440.1 540L440.6 540L441.1 540L441.6 540L442.1 540L442.6 540L443.1 540L443.6 540L444.1 540L444.6 540L445.1 540L445.6 540L446.1 540L446.6 540.1L447.1 540.1L447.6 540.1L448.1 540.1L448.6 540.1L449.1 540.1L449.6 540.1L450.1 540.1L450.6 540.1L451.1 540.1L451.6 540.1L452.1 540.1L452.6 540.1L453.1 540.1L453.6 540.1L454.1 540.1L454.6 540.1L455.1 540.1L455.6 540.1L456.1 540.1L456.6 540.1L457.1 540.1L457.6 540.1L458.1 540.1L458.6 540.1L459.1 540.1L459.6 540.1L460.1 540.2L460.6 540.2L461.1 540.2L461.6 540.2L462.1 540.2L462.6 540.2L463.1 540.2L463.6 540.2L464.1 540.2L464.6 540.2L465.1 540.2L465.6 540.2L466.1 540.2L466.6 540.2L467.1 540.2L467.6 540.2L468.1 540.2L468.6 540.2L469.1 540.2L469.6 540.2L470.1 540.2L470.6 540.2L471.1 540.2L471.6 540.2L472.1 540.2L472.6 540.2L473.1 540.2L473.6 540.2L474.1 540.2L474.6 540.2L475.1 540.2L475.6 540.2L476.1 540.2L476.6 540.3L477.1 540.3L477.6 540.3L478.1 540.3L478.6 540.3L479.1 540.3L479.6 540.3L480.1 540.3L480.6 540.3L481.1 540.3L481.6 540.3L482.1 540.3L482.6 540.3L483.1 540.3L483.6 540.3L484.1 540.3L484.6 540.3L485.1 540.3L485.6 540.3L486.1 540.3L486.6 540.3L486.8 540.3" fill="none" stroke="#000" stroke-width="2.6" stroke-linejoin="round" stroke-linecap="round"/>
<path d="M122.1 490.3L122.6 491.4L123.1 492.5L123.6 493.5L124.1 494.5L124.6 495.5L125.1 496.4L125.6 497.3L126.1 498.1L126.6 498.9L127.1 499.7L127.6 500.5L128.1 501.2L128.6 501.9L129.1 502.5L129.6 503.2L130.1 503.8L130.6 504.4L131.1 505L131.6 505.5L132.1 506.1L132.6 506.6L133.1 507.2L133.6 507.7L134.1 508.2L134.6 508.7L135.1 509.2L135.6 509.6L136.1 510.1L136.6 510.5L137.1 510.9L137.6 511.4L138.1 511.8L138.6 512.1L139.1 512.5L139.6 512.9L140.1 513.2L140.6 513.5L141.1 513.9L141.6 514.2L142.1 514.5L142.6 514.8L143.1 515.1L143.6 515.4L144.1 515.6L144.6 515.9L145.1 516.2L145.6 516.5L146.1 516.7L146.6 517L147.1 517.2L147.6 517.5L148.1 517.7L148.6 518L149.1 518.2L149.6 518.5L150.1 518.7L150.6 518.9L151.1 519.2L151.6 519.4L152.1 519.6L152.6 519.8L153.1 520L153.6 520.2L154.1 520.4L154.6 520.6L155.1 520.8L155.6 521L156.1 521.2L156.6 521.4L157.1 521.5L157.6 521.7L158.1 521.9L158.6 522.1L159.1 522.2L159.6 522.4L160.1 522.6L160.6 522.7L161.1 522.9L161.6 523L162.1 523.2L162.6 523.3L163.1 523.5L163.6 523.6L164.1 523.8L164.6 523.9L165.1 524L165.6 524.2L166.1 524.3L166.6 524.4L167.1 524.5L167.6 524.7L168.1 524.8L168.6 524.9L169.1 525L169.6 525.2L170.1 525.3L170.6 525.4L171.1 525.5L171.6 525.6L172.1 525.7L172.6 525.8L173.1 525.9L173.6 526L174.1 526.1L174.6 526.3L175.1 526.4L175.6 526.5L176.1 526.6L176.6 526.7L177.1 526.8L177.6 526.9L178.1 527L178.6 527.1L179.1 527.1L179.6 527.2L180.1 527.3L180.6 527.4L181.1 527.5L181.6 527.6L182.1 527.7L182.6 527.8L183.1 527.9L183.6 528L184.1 528.1L184.6 528.2L185.1 528.3L185.6 528.4L186.1 528.5L186.6 528.5L187.1 528.6L187.6 528.7L188.1 528.8L188.6 528.9L189.1 529L189.6 529.1L190.1 529.1L190.6 529.2L191.1 529.3L191.6 529.4L192.1 529.5L192.6 529.5L193.1 529.6L193.6 529.7L194.1 529.8L194.6 529.9L195.1 529.9L195.6 530L196.1 530.1L196.6 530.1L197.1 530.2L197.6 530.3L198.1 530.4L198.6 530.4L199.1 530.5L199.6 530.5L200.1 530.6L200.6 530.7L201.1 530.7L201.6 530.8L202.1 530.9L202.6 530.9L203.1 531L203.6 531L204.1 531.1L204.6 531.2L205.1 531.2L205.6 531.3L206.1 531.4L206.6 531.4L207.1 531.5L207.6 531.5L208.1 531.6L208.6 531.6L209.1 531.7L209.6 531.8L210.1 531.8L210.6 531.9L211.1 531.9L211.6 532L212.1 532L212.6 532.1L213.1 532.2L213.6 532.2L214.1 532.3L214.6 532.3L215.1 532.4L215.6 532.4L216.1 532.5L216.6 532.5L217.1 532.6L217.6 532.6L218.1 532.7L218.6 532.7L219.1 532.8L219.6 532.8L220.1 532.9L220.6 532.9L221.1 533L221.6 533L222.1 533.1L222.6 533.1L223.1 533.2L223.6 533.2L224.1 533.3L224.6 533.3L225.1 533.4L225.6 533.4L226.1 533.4L226.6 533.5L227.1 533.5L227.6 533.6L228.1 533.6L228.6 533.6L229.1 533.7L229.6 533.7L230.1 533.8L230.6 533.8L231.1 533.8L231.6 533.9L232.1 533.9L232.6 534L233.1 534L233.6 534L234.1 534.1L234.6 534.1L235.1 534.1L235.6 534.2L236.1 534.2L236.6 534.2L237.1 534.3L237.6 534.3L238.1 534.3L238.6 534.4L239.1 534.4L239.6 534.4L240.1 534.5L240.6 534.5L241.1 534.5L241.6 534.6L242.1 534.6L242.6 534.6L243.1 534.6L243.6 534.7L244.1 534.7L244.6 534.7L245.1 534.8L245.6 534.8L246.1 534.8L246.6 534.9L247.1 534.9L247.6 534.9L248.1 534.9L248.6 535L249.1 535L249.6 535L250.1 535.1L250.6 535.1L251.1 535.1L251.6 535.1L252.1 535.2L252.6 535.2L253.1 535.2L253.6 535.2L254.1 535.3L254.6 535.3L255.1 535.3L255.6 535.3L256.1 535.4L256.6 535.4L257.1 535.4L257.6 535.4L258.1 535.5L258.6 535.5L259.1 535.5L259.6 535.5L260.1 535.6L260.6 535.6L261.1 535.6L261.6 535.6L262.1 535.7L262.6 535.7L263.1 535.7L263.6 535.7L264.1 535.8L264.6 535.8L265.1 535.8L265.6 535.8L266.1 535.9L266.6 535.9L267.1 535.9L267.6 535.9L268.1 535.9L268.6 536L269.1 536L269.6 536L270.1 536L270.6 536L271.1 536.1L271.6 536.1L272.1 536.1L272.6 536.1L273.1 536.2L273.6 536.2L274.1 536.2L274.6 536.2L275.1 536.2L275.6 536.3L276.1 536.3L276.6 536.3L277.1 536.3L277.6 536.3L278.1 536.4L278.6 536.4L279.1 536.4L279.6 536.4L280.1 536.4L280.6 536.5L281.1 536.5L281.6 536.5L282.1 536.5L282.6 536.5L283.1 536.6L283.6 536.6L284.1 536.6L284.6 536.6L285.1 536.6L285.6 536.7L286.1 536.7L286.6 536.7L287.1 536.7L287.6 536.7L288.1 536.7L288.6 536.8L289.1 536.8L289.6 536.8L290.1 536.8L290.6 536.8L291.1 536.9L291.6 536.9L292.1 536.9L292.6 536.9L293.1 536.9L293.6 536.9L294.1 537L294.6 537L295.1 537L295.6 537L296.1 537L296.6 537.1L297.1 537.1L297.6 537.1L298.1 537.1L298.6 537.1L299.1 537.1L299.6 537.2L300.1 537.2L300.6 537.2L301.1 537.2L301.6 537.2L302.1 537.3L302.6 537.3L303.1 537.3L303.6 537.3L304.1 537.3L304.6 537.3L305.1 537.4L305.6 537.4L306.1 537.4L306.6 537.4L307.1 537.4L307.6 537.4L308.1 537.5L308.6 537.5L309.1 537.5L309.6 537.5L310.1 537.5L310.6 537.5L311.1 537.6L311.6 537.6L312.1 537.6L312.6 537.6L313.1 537.6L313.6 537.6L314.1 537.6L314.6 537.7L315.1 537.7L315.6 537.7L316.1 537.7L316.6 537.7L317.1 537.7L317.6 537.8L318.1 537.8L318.6 537.8L319.1 537.8L319.6 537.8L320.1 537.8L320.6 537.9L321.1 537.9L321.6 537.9L322.1 537.9L322.6 537.9L323.1 537.9L323.6 537.9L324.1 538L324.6 538L325.1 538L325.6 538L326.1 538L326.6 538L327.1 538L327.6 538.1L328.1 538.1L328.6 538.1L329.1 538.1L329.6 538.1L330.1 538.1L330.6 538.1L331.1 538.2L331.6 538.2L332.1 538.2L332.6 538.2L333.1 538.2L333.6 538.2L334.1 538.2L334.6 538.3L335.1 538.3L335.6 538.3L336.1 538.3L336.6 538.3L337.1 538.3L337.6 538.3L338.1 538.4L338.6 538.4L339.1 538.4L339.6 538.4L340.1 538.4L340.6 538.4L341.1 538.4L341.6 538.4L342.1 538.5L342.6 538.5L343.1 538.5L343.6 538.5L344.1 538.5L344.6 538.5L345.1 538.5L345.6 538.5L346.1 538.6L346.6 538.6L347.1 538.6L347.6 538.6L348.1 538.6L348.6 538.6L349.1 538.6L349.6 538.6L350.1 538.7L350.6 538.7L351.1 538.7L351.6 538.7L352.1 538.7L352.6 538.7L353.1 538.7L353.6 538.7L354.1 538.7L354.6 538.8L355.1 538.8L355.6 538.8L356.1 538.8L356.6 538.8L357.1 538.8L357.6 538.8L358.1 538.8L358.6 538.8L359.1 538.9L359.6 538.9L360.1 538.9L360.6 538.9L361.1 538.9L361.6 538.9L362.1 538.9L362.6 538.9L363.1 538.9L363.6 539L364.1 539L364.6 539L365.1 539L365.6 539L366.1 539L366.6 539L367.1 539L367.6 539L368.1 539L368.6 539.1L369.1 539.1L369.6 539.1L370.1 539.1L370.6 539.1L371.1 539.1L371.6 539.1L372.1 539.1L372.6 539.1L373.1 539.1L373.6 539.2L374.1 539.2L374.6 539.2L375.1 539.2L375.6 539.2L376.1 539.2L376.6 539.2L377.1 539.2L377.6 539.2L378.1 539.2L378.6 539.2L379.1 539.3L379.6 539.3L380.1 539.3L380.6 539.3L381.1 539.3L381.6 539.3L382.1 539.3L382.6 539.3L383.1 539.3L383.6 539.3L384.1 539.3L384.6 539.3L385.1 539.4L385.6 539.4L386.1 539.4L386.6 539.4L387.1 539.4L387.6 539.4L388.1 539.4L388.6 539.4L389.1 539.4L389.6 539.4L390.1 539.4L390.6 539.4L391.1 539.4L391.6 539.5L392.1 539.5L392.6 539.5L393.1 539.5L393.6 539.5L394.1 539.5L394.6 539.5L395.1 539.5L395.6 539.5L396.1 539.5L396.6 539.5L397.1 539.5L397.6 539.5L398.1 539.5L398.6 539.5L399.1 539.6L399.6 539.6L400.1 539.6L400.6 539.6L401.1 539.6L401.6 539.6L402.1 539.6L402.6 539.6L403.1 539.6L403.6 539.6L404.1 539.6L404.6 539.6L405.1 539.6L405.6 539.6L406.1 539.6L406.6 539.7L407.1 539.7L407.6 539.7L408.1 539.7L408.6 539.7L409.1 539.7L409.6 539.7L410.1 539.7L410.6 539.7L411.1 539.7L411.6 539.7L412.1 539.7L412.6 539.7L413.1 539.7L413.6 539.7L414.1 539.7L414.6 539.7L415.1 539.8L415.6 539.8L416.1 539.8L416.6 539.8L417.1 539.8L417.6 539.8L418.1 539.8L418.6 539.8L419.1 539.8L419.6 539.8L420.1 539.8L420.6 539.8L421.1 539.8L421.6 539.8L422.1 539.8L422.6 539.8L423.1 539.8L423.6 539.8L424.1 539.9L424.6 539.9L425.1 539.9L425.6 539.9L426.1 539.9L426.6 539.9L427.1 539.9L427.6 539.9L428.1 539.9L428.6 539.9L429.1 539.9L429.6 539.9L430.1 539.9L430.6 539.9L431.1 539.9L431.6 539.9L432.1 539.9L432.6 539.9L433.1 539.9L433.6 539.9L434.1 539.9L434.6 540L435.1 540L435.6 540L436.1 540L436.6 540L437.1 540L437.6 540L438.1 540L438.6 540L439.1 540L439.6 540L440.1 540L440.6 540L441.1 540L441.6 540L442.1 540L442.6 540L443.1 540L443.6 540L444.1 540L444.6 540L445.1 540L445.6 540L446.1 540L446.6 540.1L447.1 540.1L447.6 540.1L448.1 540.1L448.6 540.1L449.1 540.1L449.6 540.1L450.1 540.1L450.6 540.1L451.1 540.1L451.6 540.1L452.1 540.1L452.6 540.1L453.1 540.1L453.6 540.1L454.1 540.1L454.6 540.1L455.1 540.1L455.6 540.1L456.1 540.1L456.6 540.1L457.1 540.1L457.6 540.1L458.1 540.1L458.6 540.1L459.1 540.1L459.6 540.1L460.1 540.2L460.6 540.2L461.1 540.2L461.6 540.2L462.1 540.2L462.6 540.2L463.1 540.2L463.6 540.2L464.1 540.2L464.6 540.2L465.1 540.2L465.6 540.2L466.1 540.2L466.6 540.2L467.1 540.2L467.6 540.2L468.1 540.2L468.6 540.2L469.1 540.2L469.6 540.2L470.1 540.2L470.6 540.2L471.1 540.2L471.6 540.2L472.1 540.2L472.6 540.2L473.1 540.2L473.6 540.2L474.1 540.2L474.6 540.2L475.1 540.2L475.6 540.2L476.1 540.2L476.6 540.3L477.1 540.3L477.6 540.3L478.1 540.3L478.6 540.3L479.1 540.3L479.6 540.3L480.1 540.3L480.6 540.3L481.1 540.3L481.6 540.3L482.1 540.3L482.6 540.3L483.1 540.3L483.6 540.3L484.1 540.3L484.6 540.3L485.1 540.3L485.6 540.3L486.1 540.3L486.6 540.3L486.8 540.3" fill="none" stroke="#000" stroke-width="2.9" stroke-linejoin="round" stroke-linecap="round"/>
<path d="M135.1 509.2L135.6 509.6L136.1 510.1L136.6 510.5L137.1 510.9L137.6 511.4L138.1 511.8L138.6 512.1L139.1 512.5L139.6 512.9L140.1 513.2L140.6 513.5L141.1 513.9L141.6 514.2L142.1 514.5L142.6 514.8L143.1 515.1L143.6 515.4L144.1 515.6L144.6 515.9L145.1 516.2L145.6 516.5L146.1 516.7L146.6 517L147.1 517.2L147.6 517.5L148.1 517.7L148.6 518L149.1 518.2L149.6 518.5L150.1 518.7L150.6 518.9L151.1 519.2L151.6 519.4L152.1 519.6L152.6 519.8L153.1 520L153.6 520.2L154.1 520.4L154.6 520.6L155.1 520.8L155.6 521L156.1 521.2L156.6 521.4L157.1 521.5L157.6 521.7L158.1 521.9L158.6 522.1L159.1 522.2L159.6 522.4L160.1 522.6L160.6 522.7L161.1 522.9L161.6 523L162.1 523.2L162.6 523.3L163.1 523.5L163.6 523.6L164.1 523.8L164.6 523.9L165.1 524L165.6 524.2L166.1 524.3L166.6 524.4L167.1 524.5L167.6 524.7L168.1 524.8L168.6 524.9L169.1 525L169.6 525.2L170.1 525.3L170.6 525.4L171.1 525.5L171.6 525.6L172.1 525.7L172.6 525.8L173.1 525.9L173.6 526L174.1 526.1L174.6 526.3L175.1 526.4L175.6 526.5L176.1 526.6L176.6 526.7L177.1 526.8L177.6 526.9L178.1 527L178.6 527.1L179.1 527.1L179.6 527.2L180.1 527.3L180.6 527.4L181.1 527.5L181.6 527.6L182.1 527.7L182.6 527.8L183.1 527.9L183.6 528L184.1 528.1L184.6 528.2L185.1 528.3L185.6 528.4L186.1 528.5L186.6 528.5L187.1 528.6L187.6 528.7L188.1 528.8L188.6 528.9L189.1 529L189.6 529.1L190.1 529.1L190.6 529.2L191.1 529.3L191.6 529.4L192.1 529.5L192.6 529.5L193.1 529.6L193.6 529.7L194.1 529.8L194.6 529.9L195.1 529.9L195.6 530L196.1 530.1L196.6 530.1L197.1 530.2L197.6 530.3L198.1 530.4L198.6 530.4L199.1 530.5L199.6 530.5L200.1 530.6L200.6 530.7L201.1 530.7L201.6 530.8L202.1 530.9L202.6 530.9L203.1 531L203.6 531L204.1 531.1L204.6 531.2L205.1 531.2L205.6 531.3L206.1 531.4L206.6 531.4L207.1 531.5L207.6 531.5L208.1 531.6L208.6 531.6L209.1 531.7L209.6 531.8L210.1 531.8L210.6 531.9L211.1 531.9L211.6 532L212.1 532L212.6 532.1L213.1 532.2L213.6 532.2L214.1 532.3L214.6 532.3L215.1 532.4L215.6 532.4L216.1 532.5L216.6 532.5L217.1 532.6L217.6 532.6L218.1 532.7L218.6 532.7L219.1 532.8L219.6 532.8L220.1 532.9L220.6 532.9L221.1 533L221.6 533L222.1 533.1L222.6 533.1L223.1 533.2L223.6 533.2L224.1 533.3L224.6 533.3L225.1 533.4L225.6 533.4L226.1 533.4L226.6 533.5L227.1 533.5L227.6 533.6L228.1 533.6L228.6 533.6L229.1 533.7L229.6 533.7L230.1 533.8L230.6 533.8L231.1 533.8L231.6 533.9L232.1 533.9L232.6 534L233.1 534L233.6 534L234.1 534.1L234.6 534.1L235.1 534.1L235.6 534.2L236.1 534.2L236.6 534.2L237.1 534.3L237.6 534.3L238.1 534.3L238.6 534.4L239.1 534.4L239.6 534.4L240.1 534.5L240.6 534.5L241.1 534.5L241.6 534.6L242.1 534.6L242.6 534.6L243.1 534.6L243.6 534.7L244.1 534.7L244.6 534.7L245.1 534.8L245.6 534.8L246.1 534.8L246.6 534.9L247.1 534.9L247.6 534.9L248.1 534.9L248.6 535L249.1 535L249.6 535L250.1 535.1L250.6 535.1L251.1 535.1L251.6 535.1L252.1 535.2L252.6 535.2L253.1 535.2L253.6 535.2L254.1 535.3L254.6 535.3L255.1 535.3L255.6 535.3L256.1 535.4L256.6 535.4L257.1 535.4L257.6 535.4L258.1 535.5L258.6 535.5L259.1 535.5L259.6 535.5L260.1 535.6L260.6 535.6L261.1 535.6L261.6 535.6L262.1 535.7L262.6 535.7L263.1 535.7L263.6 535.7L264.1 535.8L264.6 535.8L265.1 535.8L265.6 535.8L266.1 535.9L266.6 535.9L267.1 535.9L267.6 535.9L268.1 535.9L268.6 536L269.1 536L269.6 536L270.1 536L270.6 536L271.1 536.1L271.6 536.1L272.1 536.1L272.6 536.1L273.1 536.2L273.6 536.2L274.1 536.2L274.6 536.2L275.1 536.2L275.6 536.3L276.1 536.3L276.6 536.3L277.1 536.3L277.6 536.3L278.1 536.4L278.6 536.4L279.1 536.4L279.6 536.4L280.1 536.4L280.6 536.5L281.1 536.5L281.6 536.5L282.1 536.5L282.6 536.5L283.1 536.6L283.6 536.6L284.1 536.6L284.6 536.6L285.1 536.6L285.6 536.7L286.1 536.7L286.6 536.7L287.1 536.7L287.6 536.7L288.1 536.7L288.6 536.8L289.1 536.8L289.6 536.8L290.1 536.8L290.6 536.8L291.1 536.9L291.6 536.9L292.1 536.9L292.6 536.9L293.1 536.9L293.6 536.9L294.1 537L294.6 537L295.1 537L295.6 537L296.1 537L296.6 537.1L297.1 537.1L297.6 537.1L298.1 537.1L298.6 537.1L299.1 537.1L299.6 537.2L300.1 537.2L300.6 537.2L301.1 537.2L301.6 537.2L302.1 537.3L302.6 537.3L303.1 537.3L303.6 537.3L304.1 537.3L304.6 537.3L305.1 537.4L305.6 537.4L306.1 537.4L306.6 537.4L307.1 537.4L307.6 537.4L308.1 537.5L308.6 537.5L309.1 537.5L309.6 537.5L310.1 537.5L310.6 537.5L311.1 537.6L311.6 537.6L312.1 537.6L312.6 537.6L313.1 537.6L313.6 537.6L314.1 537.6L314.6 537.7L315.1 537.7L315.6 537.7L316.1 537.7L316.6 537.7L317.1 537.7L317.6 537.8L318.1 537.8L318.6 537.8L319.1 537.8L319.6 537.8L320.1 537.8L320.6 537.9L321.1 537.9L321.6 537.9L322.1 537.9L322.6 537.9L323.1 537.9L323.6 537.9L324.1 538L324.6 538L325.1 538L325.6 538L326.1 538L326.6 538L327.1 538L327.6 538.1L328.1 538.1L328.6 538.1L329.1 538.1L329.6 538.1L330.1 538.1L330.6 538.1L331.1 538.2L331.6 538.2L332.1 538.2L332.6 538.2L333.1 538.2L333.6 538.2L334.1 538.2L334.6 538.3L335.1 538.3L335.6 538.3L336.1 538.3L336.6 538.3L337.1 538.3L337.6 538.3L338.1 538.4L338.6 538.4L339.1 538.4L339.6 538.4L340.1 538.4L340.6 538.4L341.1 538.4L341.6 538.4L342.1 538.5L342.6 538.5L343.1 538.5L343.6 538.5L344.1 538.5L344.6 538.5L345.1 538.5L345.6 538.5L346.1 538.6L346.6 538.6L347.1 538.6L347.6 538.6L348.1 538.6L348.6 538.6L349.1 538.6L349.6 538.6L350.1 538.7L350.6 538.7L351.1 538.7L351.6 538.7L352.1 538.7L352.6 538.7L353.1 538.7L353.6 538.7L354.1 538.7L354.6 538.8L355.1 538.8L355.6 538.8L356.1 538.8L356.6 538.8L357.1 538.8L357.6 538.8L358.1 538.8L358.6 538.8L359.1 538.9L359.6 538.9L360.1 538.9L360.6 538.9L361.1 538.9L361.6 538.9L362.1 538.9L362.6 538.9L363.1 538.9L363.6 539L364.1 539L364.6 539L365.1 539L365.6 539L366.1 539L366.6 539L367.1 539L367.6 539L368.1 539L368.6 539.1L369.1 539.1L369.6 539.1L370.1 539.1L370.6 539.1L371.1 539.1L371.6 539.1L372.1 539.1L372.6 539.1L373.1 539.1L373.6 539.2L374.1 539.2L374.6 539.2L375.1 539.2L375.6 539.2L376.1 539.2L376.6 539.2L377.1 539.2L377.6 539.2L378.1 539.2L378.6 539.2L379.1 539.3L379.6 539.3L380.1 539.3L380.6 539.3L381.1 539.3L381.6 539.3L382.1 539.3L382.6 539.3L383.1 539.3L383.6 539.3L384.1 539.3L384.6 539.3L385.1 539.4L385.6 539.4L386.1 539.4L386.6 539.4L387.1 539.4L387.6 539.4L388.1 539.4L388.6 539.4L389.1 539.4L389.6 539.4L390.1 539.4L390.6 539.4L391.1 539.4L391.6 539.5L392.1 539.5L392.6 539.5L393.1 539.5L393.6 539.5L394.1 539.5L394.6 539.5L395.1 539.5L395.6 539.5L396.1 539.5L396.6 539.5L397.1 539.5L397.6 539.5L398.1 539.5L398.6 539.5L399.1 539.6L399.6 539.6L400.1 539.6L400.6 539.6L401.1 539.6L401.6 539.6L402.1 539.6L402.6 539.6L403.1 539.6L403.6 539.6L404.1 539.6L404.6 539.6L405.1 539.6L405.6 539.6L406.1 539.6L406.6 539.7L407.1 539.7L407.6 539.7L408.1 539.7L408.6 539.7L409.1 539.7L409.6 539.7L410.1 539.7L410.6 539.7L411.1 539.7L411.6 539.7L412.1 539.7L412.6 539.7L413.1 539.7L413.6 539.7L414.1 539.7L414.6 539.7L415.1 539.8L415.6 539.8L416.1 539.8L416.6 539.8L417.1 539.8L417.6 539.8L418.1 539.8L418.6 539.8L419.1 539.8L419.6 539.8L420.1 539.8L420.6 539.8L421.1 539.8L421.6 539.8L422.1 539.8L422.6 539.8L423.1 539.8L423.6 539.8L424.1 539.9L424.6 539.9L425.1 539.9L425.6 539.9L426.1 539.9L426.6 539.9L427.1 539.9L427.6 539.9L428.1 539.9L428.6 539.9L429.1 539.9L429.6 539.9L430.1 539.9L430.6 539.9L431.1 539.9L431.6 539.9L432.1 539.9L432.6 539.9L433.1 539.9L433.6 539.9L434.1 539.9L434.6 540L435.1 540L435.6 540L436.1 540L436.6 540L437.1 540L437.6 540L438.1 540L438.6 540L439.1 540L439.6 540L440.1 540L440.6 540L441.1 540L441.6 540L442.1 540L442.6 540L443.1 540L443.6 540L444.1 540L444.6 540L445.1 540L445.6 540L446.1 540L446.6 540.1L447.1 540.1L447.6 540.1L448.1 540.1L448.6 540.1L449.1 540.1L449.6 540.1L450.1 540.1L450.6 540.1L451.1 540.1L451.6 540.1L452.1 540.1L452.6 540.1L453.1 540.1L453.6 540.1L454.1 540.1L454.6 540.1L455.1 540.1L455.6 540.1L456.1 540.1L456.6 540.1L457.1 540.1L457.6 540.1L458.1 540.1L458.6 540.1L459.1 540.1L459.6 540.1L460.1 540.2L460.6 540.2L461.1 540.2L461.6 540.2L462.1 540.2L462.6 540.2L463.1 540.2L463.6 540.2L464.1 540.2L464.6 540.2L465.1 540.2L465.6 540.2L466.1 540.2L466.6 540.2L467.1 540.2L467.6 540.2L468.1 540.2L468.6 540.2L469.1 540.2L469.6 540.2L470.1 540.2L470.6 540.2L471.1 540.2L471.6 540.2L472.1 540.2L472.6 540.2L473.1 540.2L473.6 540.2L474.1 540.2L474.6 540.2L475.1 540.2L475.6 540.2L476.1 540.2L476.6 540.3L477.1 540.3L477.6 540.3L478.1 540.3L478.6 540.3L479.1 540.3L479.6 540.3L480.1 540.3L480.6 540.3L481.1 540.3L481.6 540.3L482.1 540.3L482.6 540.3L483.1 540.3L483.6 540.3L484.1 540.3L484.6 540.3L485.1 540.3L485.6 540.3L486.1 540.3L486.6 540.3L486.8 540.3" fill="none" stroke="#000" stroke-width="3.2" stroke-linejoin="round" stroke-linecap="round"/>
<path d="M106.8 328.2L106.8 329L106.9 329.9L106.9 330.7L107 331.6L107 332.4L107 333.3L107.1 334.1L107.1 335L107.2 335.8L107.2 336.7L107.2 337.5L107.3 338.4L107.3 339.2L107.4 340L107.4 340.9L107.4 341.7L107.5 342.5L107.5 343.4L107.6 344.2L107.6 345L107.6 345.8L107.7 346.7L107.7 347.5L107.8 348.4L107.8 349.2L107.8 350.1L107.9 350.9L107.9 351.8L108 352.7L108 353.5L108 354.4L108.1 355.2L108.1 356.1L108.2 356.9L108.2 357.7L108.2 358.5L108.3 359.3L108.3 360.1L108.4 360.8L108.4 361.6L108.4 362.3L108.5 363L108.5 363.7L108.6 364.4L108.6 365L108.6 365.6L108.7 366.2L108.7 366.8L108.8 367.4L108.8 368L108.8 368.5L108.9 369.1L108.9 369.6L109 370.2L109 370.7L109 371.2L109.1 371.7L109.1 372.2L109.2 372.7L109.2 373.2L109.2 373.7L109.3 374.2L109.3 374.7L109.4 375.1L109.4 375.6L109.4 376.1L109.5 376.5L109.5 377L109.6 377.6L109.6 378.3L109.7 378.9" fill="none" stroke="#000" stroke-width="4.0" stroke-linecap="round" stroke-linejoin="round"/>
<path d="M112.8 401.4L112.9 401.9L113.1 402.3L113.2 402.8L113.4 403.2L113.6 403.7L113.8 404.1L114 404.6L114.2 405L114.4 405.4L114.6 405.8L114.9 406.2L115.1 406.6L115.4 407L115.7 407.3L116 407.6L116.4 407.9L116.8 408.2L117.2 408.4L117.6 408.6L118 408.8L118.5 408.9L118.9 409L119.4 409L119.8 408.9L120.3 408.8L120.7 408.6L121.1 408.4L121.6 408.3L121.7 408.2 M135.8 386L136.1 385.7L136.3 385.3L136.6 384.9L136.8 384.5L137.1 384.1L137.4 383.7L137.6 383.4L137.9 383L138.1 382.6L138.4 382.2L138.7 381.8L139 381.5L139.3 381.1L139.5 380.7L139.8 380.3L140.1 379.9L140.4 379.6L140.7 379.2L140.9 378.8L141.2 378.5L141.5 378.1L141.8 377.8L142.1 377.4L142.3 377L142.6 376.7L142.9 376.3L143.2 375.9L143.5 375.6L143.8 375.2L144.1 374.8L144.4 374.5L144.7 374.1L144.9 373.8 M165.5 354.2L166 354L166.4 353.8L166.8 353.6L167.2 353.4L167.7 353.3L168.1 353.1L168.5 353L169 352.8L169.4 352.7L169.9 352.6L170.3 352.5L170.8 352.5L171.2 352.4L171.7 352.3L172.2 352.2L172.6 352.2L173.1 352.1L173.5 352L174 352L174.5 351.9L174.9 351.9L175.4 351.8L175.8 351.8L176.3 351.8L176.8 351.8L177.2 351.8L177.7 351.8L178.1 351.8L178.5 351.9 M199.9 356.1L200.3 356.3L200.7 356.4L201.2 356.5L201.6 356.7L202.1 356.8L202.5 356.9L202.9 357.1L203.4 357.2L203.8 357.4L204.3 357.5L204.7 357.7L205.1 357.8L205.6 358L206 358.1L206.5 358.3L206.9 358.4L207.3 358.5L207.8 358.7L208.2 358.8L208.7 359L209.1 359.1L209.5 359.3L210 359.4L210.4 359.5L210.9 359.7L211.3 359.8L211.7 359.9L212.2 360.1L212.6 360.2L213.1 360.3L213.5 360.5L213.9 360.6L214.4 360.7L214.7 360.8 M236.8 364.9L237.3 364.9L237.7 364.9L238.2 365L238.7 365L239.1 365L239.6 365L240 365.1L240.5 365.1L241 365.1L241.4 365.1L241.9 365.1L242.3 365.1L242.8 365.1L243.3 365.1L243.7 365.1L244.2 365.1L244.6 365L245.1 365L245.6 365L246 365L246.5 364.9L246.9 364.9L247.4 364.9L247.9 364.8L248.3 364.8L248.8 364.7L249.2 364.7L249.7 364.6L250.2 364.6L250.6 364.5 M272.6 361.1L273.1 361L273.5 360.9L274 360.9L274.4 360.8L274.9 360.7L275.4 360.6L275.8 360.6L276.3 360.5L276.7 360.4L277.2 360.4L277.7 360.3L278.1 360.2L278.6 360.2L279 360.1L279.5 360.1L280 360L280.4 359.9L280.9 359.9L281.3 359.8L281.8 359.7L282.3 359.7L282.7 359.6L283.2 359.6L283.6 359.5L284.1 359.4L284.6 359.4L285 359.3L285.5 359.3L285.9 359.2L286.4 359.2 M308.2 358.1L308.7 358.1L309.1 358.2L309.6 358.2L310.1 358.3L310.5 358.3L311 358.3L311.4 358.4L311.9 358.4L312.4 358.5L312.8 358.5L313.3 358.5L313.7 358.6L314.2 358.6L314.7 358.7L315.1 358.7L315.6 358.8L316 358.8L316.5 358.9L317 358.9L317.4 358.9L317.9 359L318.3 359L318.8 359.1L319.3 359.1L319.7 359.2L320.2 359.2L320.6 359.3L321.1 359.3L321.6 359.4L322 359.4 M344.1 362.3L344.6 362.4L345 362.4L345.5 362.5L346 362.5L346.4 362.6L346.9 362.6L347.3 362.7L347.8 362.7L348.3 362.8L348.7 362.8L349.2 362.8L349.6 362.9L350.1 362.9L350.6 362.9L351 363L351.5 363L351.9 363L352.4 363L352.9 363.1L353.3 363.1L353.8 363.1L354.2 363.1L354.7 363.1L355.2 363.2L355.6 363.2L356.1 363.2L356.5 363.2L357 363.2L357.5 363.2L357.9 363.3 M379.9 362.3L380.4 362.3L380.8 362.2L381.3 362.2L381.8 362.1L382.2 362.1L382.7 362L383.1 362L383.6 361.9L384.1 361.9L384.5 361.8L385 361.8L385.4 361.7L385.9 361.7L386.4 361.6L386.8 361.6L387.3 361.5L387.7 361.5L388.2 361.4L388.7 361.4L389.1 361.4L389.6 361.3L390 361.3L390.5 361.2L391 361.2L391.4 361.2L391.9 361.1L392.3 361.1L392.8 361.1L393.3 361L393.3 361 M415.3 360.1L415.8 360L416.2 360L416.7 360L417.2 360L417.6 360L418.1 360L418.5 360L419 360L419.5 360L419.9 360L420.4 359.9L420.8 359.9L421.3 359.9L421.8 359.9L422.2 359.9L422.7 359.9L423.1 359.9L423.6 359.9L424.1 359.9L424.5 359.9L425 359.9L425.4 359.9L425.9 359.9L426.4 359.9L426.8 359.9L427.3 359.9L427.7 359.9L428.2 359.9L428.7 359.9L429.1 360L429.2 360 M451.2 361.3L451.7 361.4L452.1 361.4L452.6 361.4L453.1 361.4L453.5 361.5L454 361.5L454.4 361.5L454.9 361.6L455.4 361.6L455.8 361.6L456.3 361.6L456.7 361.6L457.2 361.7L457.7 361.7L458.1 361.7L458.6 361.7L459 361.8L459.5 361.8L460 361.8L460.4 361.8L460.9 361.8L461.3 361.9L461.8 361.9L462.3 361.9L462.7 361.9L463.2 361.9L463.6 362L464.1 362L464.6 362L465 362L465.5 362L465.9 362L466 362 M485.3 362.5L485.8 362.5L485.8 362.5" fill="none" stroke="#000" stroke-width="5.0" stroke-linecap="round" stroke-linejoin="round"/>
</g>
<path d="M165.4 481 H179.7 M200.7 481 H215.1 M237 481 H251.4" stroke="#000" stroke-width="5.0" stroke-linecap="round" fill="none"/>
<path d="M102.8 18.8 H493 M102.8 253.9 H493 M104.1 18.8 V253.9" stroke="#000" stroke-width="2.7" fill="none"/>
<path d="M163.6 18.8 v7.7 M163.6 253.9 v-7.7 M222.8 18.8 v7.7 M222.8 253.9 v-7.7 M282 18.8 v7.7 M282 253.9 v-7.7 M341.2 18.8 v7.7 M341.2 253.9 v-7.7 M400.4 18.8 v7.7 M400.4 253.9 v-7.7 M459.6 18.8 v7.7 M459.6 253.9 v-7.7 M518.8 18.8 v7.7 M518.8 253.9 v-7.7 M134 18.8 v4.8 M134 253.9 v-4.8 M193.2 18.8 v4.8 M193.2 253.9 v-4.8 M252.4 18.8 v4.8 M252.4 253.9 v-4.8 M311.6 18.8 v4.8 M311.6 253.9 v-4.8 M370.8 18.8 v4.8 M370.8 253.9 v-4.8 M430 18.8 v4.8 M430 253.9 v-4.8 M489.2 18.8 v4.8 M489.2 253.9 v-4.8 M104.4 163.4 h7.3 M104.4 73.1 h7.3 M104.4 235.6 h3.9 M104.4 217.6 h3.9 M104.4 199.5 h3.9 M104.4 181.5 h3.9 M104.4 145.3 h3.9 M104.4 127.3 h3.9 M104.4 109.2 h3.9 M104.4 91.2 h3.9 M104.4 55 h3.9 M104.4 37 h3.9" stroke="#000" stroke-width="2.0" fill="none"/>
<path d="M102.8 328.4 H493 M102.8 563.2 H493 M104.1 328.4 V563.2" stroke="#000" stroke-width="2.7" fill="none"/>
<path d="M158.5 328.4 v7.7 M158.5 563.2 v-7.7 M212.6 328.4 v7.7 M212.6 563.2 v-7.7 M266.7 328.4 v7.7 M266.7 563.2 v-7.7 M320.8 328.4 v7.7 M320.8 563.2 v-7.7 M374.9 328.4 v7.7 M374.9 563.2 v-7.7 M429 328.4 v7.7 M429 563.2 v-7.7 M483.1 328.4 v7.7 M483.1 563.2 v-7.7 M537.2 328.4 v7.7 M537.2 563.2 v-7.7 M131.5 328.4 v4.8 M131.5 563.2 v-4.8 M185.6 328.4 v4.8 M185.6 563.2 v-4.8 M239.7 328.4 v4.8 M239.7 563.2 v-4.8 M293.8 328.4 v4.8 M293.8 563.2 v-4.8 M347.9 328.4 v4.8 M347.9 563.2 v-4.8 M402 328.4 v4.8 M402 563.2 v-4.8 M456.1 328.4 v4.8 M456.1 563.2 v-4.8 M510.1 328.4 v4.8 M510.1 563.2 v-4.8 M104.4 531.3 h7.3 M104.4 467.7 h7.3 M104.4 404.1 h7.3 M104.4 340.5 h7.3 M104.4 499.5 h3.9 M104.4 435.9 h3.9 M104.4 372.3 h3.9" stroke="#000" stroke-width="2.0" fill="none"/>
<text x="104.4" y="277" font-size="21" font-family="Liberation Sans, sans-serif" stroke="#000" stroke-width="0.3" text-anchor="middle">0</text>
<text x="163.6" y="277" font-size="21" font-family="Liberation Sans, sans-serif" stroke="#000" stroke-width="0.3" text-anchor="middle">50</text>
<text x="222.8" y="277" font-size="21" font-family="Liberation Sans, sans-serif" stroke="#000" stroke-width="0.3" text-anchor="middle">100</text>
<text x="282" y="277" font-size="21" font-family="Liberation Sans, sans-serif" stroke="#000" stroke-width="0.3" text-anchor="middle">150</text>
<text x="341.2" y="277" font-size="21" font-family="Liberation Sans, sans-serif" stroke="#000" stroke-width="0.3" text-anchor="middle">200</text>
<text x="400.4" y="277" font-size="21" font-family="Liberation Sans, sans-serif" stroke="#000" stroke-width="0.3" text-anchor="middle">250</text>
<text x="459.6" y="277" font-size="21" font-family="Liberation Sans, sans-serif" stroke="#000" stroke-width="0.3" text-anchor="middle">300</text>
<text x="518.8" y="277" font-size="21" font-family="Liberation Sans, sans-serif" stroke="#000" stroke-width="0.3" text-anchor="middle">350</text>
<text x="104.4" y="586" font-size="21" font-family="Liberation Sans, sans-serif" stroke="#000" stroke-width="0.3" text-anchor="middle">0</text>
<text x="158.5" y="586" font-size="21" font-family="Liberation Sans, sans-serif" stroke="#000" stroke-width="0.3" text-anchor="middle">100</text>
<text x="212.6" y="586" font-size="21" font-family="Liberation Sans, sans-serif" stroke="#000" stroke-width="0.3" text-anchor="middle">200</text>
<text x="266.7" y="586" font-size="21" font-family="Liberation Sans, sans-serif" stroke="#000" stroke-width="0.3" text-anchor="middle">300</text>
<text x="320.8" y="586" font-size="21" font-family="Liberation Sans, sans-serif" stroke="#000" stroke-width="0.3" text-anchor="middle">400</text>
<text x="374.9" y="586" font-size="21" font-family="Liberation Sans, sans-serif" stroke="#000" stroke-width="0.3" text-anchor="middle">500</text>
<text x="429" y="586" font-size="21" font-family="Liberation Sans, sans-serif" stroke="#000" stroke-width="0.3" text-anchor="middle">600</text>
<text x="483.1" y="586" font-size="21" font-family="Liberation Sans, sans-serif" stroke="#000" stroke-width="0.3" text-anchor="middle">700</text>
<text x="537.2" y="586" font-size="21" font-family="Liberation Sans, sans-serif" stroke="#000" stroke-width="0.3" text-anchor="middle">800</text>
<text x="96.9" y="259.3" font-size="21" font-family="Liberation Sans, sans-serif" stroke="#000" stroke-width="0.3" text-anchor="end">0.1</text>
<text x="96.9" y="169.3" font-size="21" font-family="Liberation Sans, sans-serif" stroke="#000" stroke-width="0.3" text-anchor="end">0.2</text>
<text x="96.9" y="79.2" font-size="21" font-family="Liberation Sans, sans-serif" stroke="#000" stroke-width="0.3" text-anchor="end">0.3</text>
<text x="96.9" y="537.2" font-size="21" font-family="Liberation Sans, sans-serif" stroke="#000" stroke-width="0.3" text-anchor="end">0.2</text>
<text x="96.9" y="473.4" font-size="21" font-family="Liberation Sans, sans-serif" stroke="#000" stroke-width="0.3" text-anchor="end">0.3</text>
<text x="96.9" y="410" font-size="21" font-family="Liberation Sans, sans-serif" stroke="#000" stroke-width="0.3" text-anchor="end">0.4</text>
<text x="96.9" y="346.3" font-size="21" font-family="Liberation Sans, sans-serif" stroke="#000" stroke-width="0.3" text-anchor="end">0.5</text>
<text x="110.6" y="62.4" font-size="35" font-family="Liberation Serif, serif" text-anchor="start">(a)</text>
<text x="110.6" y="553" font-size="35" font-family="Liberation Serif, serif" text-anchor="start">(b)</text>
<text x="275" y="472.2" font-size="22.4" font-family="Liberation Serif, serif" text-anchor="start">Exact for</text>
<text x="275" y="500.9" font-size="22.4" font-family="Liberation Serif, serif" text-anchor="start">linear chain</text>
<text x="471.5" y="241.5" font-size="26" font-family="Liberation Serif, serif" text-anchor="start" fill="#ff00ff">0.02</text>
<text x="466.6" y="351.7" font-size="26.5" font-family="Liberation Serif, serif" text-anchor="start" fill="#ff00ff">0.02</text>
<text x="297.9" y="304.3" font-size="28.8" font-family="Liberation Serif, serif" text-anchor="start" font-style="italic">t</text>
<text x="304.7" y="317.8" font-size="17.5" font-family="Liberation Serif, serif" text-anchor="start" font-style="italic">j</text>
<text x="318.8" y="304.3" font-size="28.8" font-family="Liberation Serif, serif" text-anchor="start" font-style="italic">/</text>
<text x="327.2" y="304.3" font-size="28.8" font-family="Liberation Serif, serif" text-anchor="start" font-style="italic">T</text>
<text x="297.9" y="613.9" font-size="28.8" font-family="Liberation Serif, serif" text-anchor="start" font-style="italic">t</text>
<text x="304.7" y="627.4" font-size="17.5" font-family="Liberation Serif, serif" text-anchor="start" font-style="italic">j</text>
<text x="318.8" y="613.9" font-size="28.8" font-family="Liberation Serif, serif" text-anchor="start" font-style="italic">/</text>
<text x="327.2" y="613.9" font-size="28.8" font-family="Liberation Serif, serif" text-anchor="start" font-style="italic">T</text>
<g transform="translate(44 157) rotate(-90)">
<text x="2.5" y="0" font-size="29.5" font-family="Liberation Serif, serif" text-anchor="start" font-style="italic">p</text>
<text x="18.4" y="13.8" font-size="17.5" font-family="Liberation Serif, serif" text-anchor="start" font-style="italic">j</text>
<text x="32.2" y="0" font-size="29.5" font-family="Liberation Serif, serif" text-anchor="start" font-style="italic">/</text>
<text x="40.4" y="0" font-size="29.5" font-family="Liberation Serif, serif" text-anchor="start" font-style="italic">A</text>
<text x="56.2" y="-19.5" font-size="18" font-family="Liberation Serif, serif" text-anchor="start">2</text>
</g>
<g transform="translate(44 463) rotate(-90)">
<text x="2.5" y="0" font-size="29.5" font-family="Liberation Serif, serif" text-anchor="start" font-style="italic">p</text>
<text x="18.4" y="13.8" font-size="17.5" font-family="Liberation Serif, serif" text-anchor="start" font-style="italic">j</text>
<text x="32.2" y="0" font-size="29.5" font-family="Liberation Serif, serif" text-anchor="start" font-style="italic">/</text>
<text x="40.4" y="0" font-size="29.5" font-family="Liberation Serif, serif" text-anchor="start" font-style="italic">A</text>
<text x="56.2" y="-19.5" font-size="18" font-family="Liberation Serif, serif" text-anchor="start">2</text>
</g>
</svg>
</body></html>
